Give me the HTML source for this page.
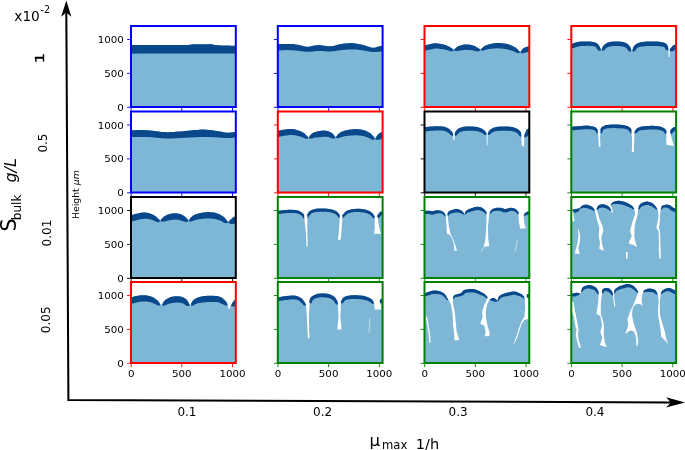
<!DOCTYPE html>
<html lang="en"><head><meta charset="utf-8"><title>Biofilm morphology vs. growth rate and bulk substrate</title>
<style>html,body{margin:0;padding:0;background:#fff}svg{display:block}</style></head>
<body>
<svg width="685" height="450" viewBox="0 0 685 450" font-family="'DejaVu Sans','Liberation Sans',sans-serif" fill="#000">
<rect width="685" height="450" fill="#fff"/>
<clipPath id="c00"><rect x="131" y="26" width="104.8" height="81"/></clipPath>
<g clip-path="url(#c00)">
<polygon fill="#7eb6d6" points="130,45 132.8,45 136.9,45 141.5,45 145.8,45 149.7,45 153.7,45 157.6,45 161.5,45 165.6,45 169.6,45 173.6,45 177.3,45 180.9,45 184.5,45 187.6,44.9 189.9,44.8 191.1,44.7 191.3,44.5 191.4,44.3 192.3,44.2 194.3,44.2 197,44.2 199.9,44.2 202.6,44.2 205.1,44.2 207.8,44.2 210.2,44.1 212,44.2 212.9,44.4 213.2,44.6 213.4,44.8 214.4,45 216.3,45.1 218.9,45.3 221.8,45.4 224.6,45.5 227.8,45.6 231.4,45.7 234.6,45.7 236.8,45.8 236.8,108 130,108"/>
<polygon fill="#0a488c" points="130,45 132.8,45 136.9,45 141.5,45 145.8,45 149.7,45 153.7,45 157.6,45 161.5,45 165.6,45 169.6,45 173.6,45 177.3,45 180.9,45 184.5,45 187.6,44.9 189.9,44.8 191.1,44.7 191.3,44.5 191.4,44.3 192.3,44.2 194.3,44.2 197,44.2 199.9,44.2 202.6,44.2 205.1,44.2 207.8,44.2 210.2,44.1 212,44.2 212.9,44.4 213.2,44.6 213.4,44.8 214.4,45 216.3,45.1 218.9,45.3 221.8,45.4 224.6,45.5 227.8,45.6 231.4,45.7 234.6,45.7 236.8,45.8 236.8,53.4 227.1,53.4 213.1,53.4 197.5,53.5 182.8,53.5 168.3,53.6 153,53.6 139.5,53.6 130,53.7"/>
</g>
<clipPath id="c01"><rect x="277.8" y="26" width="104.8" height="81"/></clipPath>
<g clip-path="url(#c01)">
<polygon fill="#7eb6d6" points="276.8,44.2 279.5,44.1 283.5,44 287.7,43.9 291.2,43.9 293.6,44.1 295.5,44.4 297.3,44.8 299.1,45.1 301.1,45.6 303.1,46.1 305.1,46.5 307,46.7 308.7,46.7 310.2,46.4 311.7,46.1 313.3,45.8 314.7,45.6 316.1,45.3 317.7,45.2 319.6,45.1 322.1,45.4 324.9,45.8 327.9,46.2 330.6,46.3 333.1,45.9 335.4,45.4 337.7,44.7 340.1,44.2 342.7,43.8 345.5,43.4 348.3,43.2 351.1,43.1 354,43.3 356.9,43.7 359.7,44.2 362.2,44.7 364.1,45.2 365.7,45.7 367.1,46.3 368.5,46.7 369.8,47.1 370.9,47.5 372.1,47.7 373.2,47.8 374.4,47.7 375.5,47.4 376.7,47.1 377.9,46.7 379.4,46.3 381.1,45.9 382.6,45.4 383.6,45.1 383.6,108 276.8,108"/>
<polygon fill="#0a488c" points="276.8,44.2 279.5,44.1 283.5,44 287.7,43.9 291.2,43.9 293.6,44.1 295.5,44.4 297.3,44.8 299.1,45.1 301.1,45.6 303.1,46.1 305.1,46.5 307,46.7 308.7,46.7 310.2,46.4 311.7,46.1 313.3,45.8 314.7,45.6 316.1,45.3 317.7,45.2 319.6,45.1 322.1,45.4 324.9,45.8 327.9,46.2 330.6,46.3 333.1,45.9 335.4,45.4 337.7,44.7 340.1,44.2 342.7,43.8 345.5,43.4 348.3,43.2 351.1,43.1 354,43.3 356.9,43.7 359.7,44.2 362.2,44.7 364.1,45.2 365.7,45.7 367.1,46.3 368.5,46.7 369.8,47.1 370.9,47.5 372.1,47.7 373.2,47.8 374.4,47.7 375.5,47.4 376.7,47.1 377.9,46.7 379.4,46.3 381.1,45.9 382.6,45.4 383.6,45.1 383.6,51 381.7,51.3 379.1,51.7 376.1,52 373.2,52.1 370.5,51.8 367.7,51.3 364.9,50.7 362.2,50.2 359.4,49.9 356.7,49.6 353.9,49.5 351.1,49.4 348.3,49.5 345.5,49.7 342.7,49.9 340.1,50.2 337.7,50.5 335.4,50.9 333.1,51.3 330.6,51.5 328,51.4 325.3,51.3 322.5,51.1 319.6,51 316.6,51.1 313.6,51.4 310.4,51.7 307,51.8 303.2,51.5 299.2,51 295.1,50.5 291.2,50.2 287.2,50.1 283,50.3 279.4,50.4 276.8,50.5"/>
</g>
<clipPath id="c02"><rect x="424.5" y="26" width="104.8" height="81"/></clipPath>
<g clip-path="url(#c02)">
<polygon fill="#7eb6d6" points="423.5,45.8 424.5,45.5 425.9,45.1 427.6,44.7 429.2,44.2 430.7,43.9 431.9,43.7 433,43.5 434.1,43.3 435.2,43.3 436.5,43.3 437.9,43.4 439.5,43.7 441.2,43.9 442.8,44.3 444.2,44.7 445.5,45.1 446.8,45.6 447.9,46.1 449,46.6 450,47.2 451,47.8 451.9,48.5 452.7,49.1 453.4,49.7 453.9,50.1 453.9,50.1 454.2,49.7 454.7,49.1 455.3,48.4 456,47.8 456.8,47.2 457.8,46.6 458.9,46.1 460.2,45.6 461.4,45.2 462.6,44.9 463.6,44.6 464.5,44.5 465.4,44.4 466.3,44.4 467.4,44.5 468.7,44.6 470,44.8 471.4,45 472.8,45.4 474.2,45.8 475.6,46.5 477.1,47.4 478.5,48.3 479.7,49.1 480.6,49.7 480.6,49.7 481,49.3 481.6,48.6 482.3,47.9 483,47.2 483.9,46.6 484.7,46.1 485.6,45.6 486.6,45.1 487.8,44.7 489.1,44.3 490.7,43.9 492.5,43.5 494.4,43.2 496.4,43 498.4,42.9 500.3,43 502.3,43.2 504.3,43.5 506.2,43.8 508,44.3 509.8,44.8 511.4,45.5 513,46.2 514.5,47 515.8,47.8 517,48.7 518,49.8 518.9,50.8 519.7,51.8 520.2,52.4 520.2,52.4 520.6,51.8 521.1,50.9 521.8,49.9 522.6,48.9 523.5,48.1 524.8,47.5 526.3,47 527.9,46.5 529.3,46.1 530.3,45.8 530.3,108 423.5,108"/>
<polygon fill="#0a488c" points="423.5,45.8 424.5,45.5 425.9,45.1 427.6,44.7 429.2,44.2 430.7,43.9 431.9,43.7 433,43.5 434.1,43.3 435.2,43.3 436.5,43.3 437.9,43.4 439.5,43.7 441.2,43.9 442.8,44.3 444.2,44.7 445.5,45.1 446.8,45.6 447.9,46.1 449,46.6 450,47.2 451,47.8 451.9,48.5 452.7,49.1 453.4,49.7 453.9,50.1 453.2,50.9 451.9,51.4 451,51.3 450,51 449,50.7 448.1,50.4 447.2,50.2 446.1,49.9 445.1,49.6 444,49.4 442.9,49.2 441.6,49 440.2,48.9 438.7,48.7 437.3,48.6 436.2,48.6 435.3,48.6 434.5,48.7 433.8,48.8 432.9,49 431.8,49.2 430.5,49.5 429,49.8 427.4,50.2 426,50.6 424.9,50.8"/>
<polygon fill="#0a488c" points="453.9,50.1 454.2,49.7 454.7,49.1 455.3,48.4 456,47.8 456.8,47.2 457.8,46.6 458.9,46.1 460.2,45.6 461.4,45.2 462.6,44.9 463.6,44.6 464.5,44.5 465.4,44.4 466.3,44.4 467.4,44.5 468.7,44.6 470,44.8 471.4,45 472.8,45.4 474.2,45.8 475.6,46.5 477.1,47.4 478.5,48.3 479.7,49.1 480.6,49.7 480,50.6 478.1,51.5 476.5,51.3 474.9,50.9 473.4,50.5 472.4,50.3 471.4,50.2 470.3,50.1 469.2,50 468.1,49.9 467,49.9 466.2,49.8 465.6,49.8 465.1,49.8 464.6,49.8 463.9,49.9 463,50 461.9,50.2 460.8,50.4 459.7,50.6 459,50.7 458.4,50.7 457.8,50.8 457,51 456.1,51.2 454.7,50.8"/>
<polygon fill="#0a488c" points="480.6,49.7 481,49.3 481.6,48.6 482.3,47.9 483,47.2 483.9,46.6 484.7,46.1 485.6,45.6 486.6,45.1 487.8,44.7 489.1,44.3 490.7,43.9 492.5,43.5 494.4,43.2 496.4,43 498.4,42.9 500.3,43 502.3,43.2 504.3,43.5 506.2,43.8 508,44.3 509.8,44.8 511.4,45.5 513,46.2 514.5,47 515.8,47.8 517,48.7 518,49.8 518.9,50.8 519.7,51.8 520.2,52.4 519.4,53.1 517.8,53.3 516.6,52.8 515.4,52.2 514.4,51.6 513.4,51.2 512.3,50.8 511,50.4 509.6,50 508.1,49.6 506.7,49.3 505.1,49 503.4,48.7 501.7,48.5 500,48.4 498.4,48.3 496.8,48.3 495.1,48.4 493.4,48.5 491.7,48.7 490.3,48.9 489.2,49 488.3,49.1 487.5,49.3 486.8,49.5 486,49.7 485.3,49.9 484.5,50.2 483.6,50.6 482.7,50.8 481.4,50.4"/>
<polygon fill="#0a488c" points="520.2,52.4 520.6,51.8 521.1,50.9 521.8,49.9 522.6,48.9 523.5,48.1 524.8,47.5 526.3,47 527.9,46.5 529.3,46.1 530.3,45.8 531.8,50.8 530.8,51.2 529.4,51.7 528,52.1 526.8,52.3 526.2,52.3 525.9,52.2 525.2,52.4 524.3,52.9 523.1,53.3 521.1,53"/>
</g>
<clipPath id="c03"><rect x="571.3" y="26" width="104.8" height="81"/></clipPath>
<g clip-path="url(#c03)">
<polygon fill="#7eb6d6" points="570.3,44.3 571.3,43.9 572.7,43.4 574.3,42.9 576.1,42.3 577.7,42 579.2,41.7 580.7,41.5 582.3,41.4 583.9,41.4 585.4,41.4 587,41.4 588.6,41.4 590.3,41.5 591.8,41.7 593.1,42 594.3,42.3 595.4,42.6 596.3,43 597.2,43.6 598,44.3 598.8,45.3 599.6,46.6 600.3,48 600.8,49.2 601.3,50.1 601.3,50.1 601.6,49.4 602,48.4 602.5,47.3 603.1,46.2 603.8,45.2 604.6,44.5 605.4,43.9 606.4,43.3 607.4,42.8 608.6,42.3 610,42 611.5,41.7 613.1,41.5 614.8,41.4 616.4,41.4 618,41.4 619.6,41.5 621.2,41.7 622.7,42 624.1,42.3 625.3,42.8 626.3,43.2 627.3,43.8 628.1,44.4 628.9,45.2 629.7,46.3 630.4,47.6 631,49 631.5,50.2 631.8,51 631.8,51 632.2,50.2 632.6,49 633.2,47.6 633.9,46.3 634.7,45.2 635.6,44.4 636.6,43.8 637.7,43.2 639,42.8 640.5,42.3 642.4,42 644.5,41.7 646.8,41.6 649,41.4 651.2,41.4 653.2,41.4 655.3,41.4 657.3,41.5 659.2,41.7 660.8,42 662.3,42.3 663.6,42.6 664.8,43 665.8,43.6 666.7,44.3 667.4,45.3 667.9,46.6 668.4,48 668.7,49.2 669,50.1 669,50.1 669.3,49.7 669.8,49.1 670.4,48.4 671,47.7 671.5,47.2 671.9,46.7 672.2,46.3 672.6,45.9 672.9,45.6 673.4,45.2 674.1,45 674.9,44.7 675.8,44.5 676.6,44.4 677.1,44.3 677.1,108 570.3,108"/>
<polygon fill="#0a488c" points="570.3,44.3 571.3,43.9 572.7,43.4 574.3,42.9 576.1,42.3 577.7,42 579.2,41.7 580.7,41.5 582.3,41.4 583.9,41.4 585.4,41.4 587,41.4 588.6,41.4 590.3,41.5 591.8,41.7 593.1,42 594.3,42.3 595.4,42.6 596.3,43 597.2,43.6 598,44.3 598.8,45.3 599.6,46.6 600.3,48 600.8,49.2 601.3,50.1 599.8,50.8 598.4,50.4 597.5,49.4 596.6,48.2 595.8,47.3 595.3,46.8 594.9,46.6 594.4,46.5 593.9,46.3 593.2,46.2 592.3,46 591.2,45.9 589.9,45.9 588.4,45.8 586.9,45.8 585.4,45.9 584,45.9 582.5,46 581.1,46.1 579.8,46.3 578.6,46.5 577.3,46.8 575.8,47.2 574.2,47.7 572.8,48.2 571.8,48.5"/>
<polygon fill="#0a488c" points="601.3,50.1 601.6,49.4 602,48.4 602.5,47.3 603.1,46.2 603.8,45.2 604.6,44.5 605.4,43.9 606.4,43.3 607.4,42.8 608.6,42.3 610,42 611.5,41.7 613.1,41.5 614.8,41.4 616.4,41.4 618,41.4 619.6,41.5 621.2,41.7 622.7,42 624.1,42.3 625.3,42.8 626.3,43.2 627.3,43.8 628.1,44.4 628.9,45.2 629.7,46.3 630.4,47.6 631,49 631.5,50.2 631.8,51 630.4,51.7 628.9,51.3 628,50.3 627.2,49.2 626.4,48.3 625.9,47.8 625.4,47.5 624.9,47.2 624.4,47 623.7,46.8 622.8,46.6 621.8,46.4 620.5,46.2 619.2,46.1 617.7,46 616.4,46 615,46 613.6,46.1 612.2,46.2 610.9,46.3 609.9,46.5 609.1,46.7 608.3,47 607.7,47.2 607.1,47.5 606.7,47.8 606.2,48.1 605.6,48.8 604.9,49.6 604.1,50.5 602.7,50.7"/>
<polygon fill="#0a488c" points="631.8,51 632.2,50.2 632.6,49 633.2,47.6 633.9,46.3 634.7,45.2 635.6,44.4 636.6,43.8 637.7,43.2 639,42.8 640.5,42.3 642.4,42 644.5,41.7 646.8,41.6 649,41.4 651.2,41.4 653.2,41.4 655.3,41.4 657.3,41.5 659.2,41.7 660.8,42 662.3,42.3 663.6,42.6 664.8,43 665.8,43.6 666.7,44.3 667.4,45.3 667.9,46.6 668.4,48 668.7,49.2 669,50.1 667.4,50.6 666.1,50 665.4,48.9 664.7,47.8 664.2,47.1 663.8,46.9 663.6,46.8 663.1,46.7 662.4,46.5 661.4,46.4 660.1,46.2 658.6,46.1 657,46 655.1,46 653.2,45.9 651.3,46 649.2,46 647.1,46.1 644.9,46.2 643,46.4 641.5,46.6 640.3,46.8 639.4,47.1 638.7,47.3 638.1,47.6 637.6,47.8 637,48.3 636.3,49.1 635.6,50.2 634.7,51.2 633.3,51.7"/>
<polygon fill="#0a488c" points="669,50.1 669.3,49.7 669.8,49.1 670.4,48.4 671,47.7 671.5,47.2 671.9,46.7 672.2,46.3 672.6,45.9 672.9,45.6 673.4,45.2 674.1,45 674.9,44.7 675.8,44.5 676.6,44.4 677.1,44.3 678.1,48.7 677.5,48.8 676.8,49 676.1,49.2 675.5,49.3 675.4,49.3 675.7,49.2 675.8,49 675.6,49.1 675.2,49.5 674.7,50 674,50.4 673.3,50.9 672.5,51.3 671.6,51.6 670.2,51.1"/>
<polygon fill="#fff" points="600.9,46.6 601.9,46.6 601.5,50.9"/>
<polygon fill="#fff" points="631.3,47.8 632.4,47.8 632,53.6"/>
<polygon fill="#fff" points="668.4,47.2 669.7,47.2 669.6,56.9 668.6,56.9"/>
</g>
<clipPath id="c10"><rect x="131" y="111.5" width="104.8" height="81"/></clipPath>
<g clip-path="url(#c10)">
<polygon fill="#7eb6d6" points="130,130.2 133.3,130.2 138.1,130.1 143.2,130.1 147.4,130.2 150.3,130.4 152.6,130.7 154.6,131 156.8,131.3 159.2,131.6 161.5,131.9 163.9,132.1 166.3,132.3 168.6,132.2 171,132.1 173.4,132 175.7,131.8 178.1,131.6 180.5,131.4 182.8,131.2 185.2,131 187.6,130.8 189.9,130.5 192.3,130.3 194.7,130 197,129.9 199.3,129.7 201.7,129.6 204.1,129.6 206.7,129.7 209.5,130 212.3,130.3 215.2,130.7 218.3,131.2 221.6,131.8 224.9,132.4 227.8,132.7 230.5,132.6 233.1,132.2 235.3,131.8 236.8,131.5 236.8,193.5 130,193.5"/>
<polygon fill="#0a488c" points="130,130.2 133.3,130.2 138.1,130.1 143.2,130.1 147.4,130.2 150.3,130.4 152.6,130.7 154.6,131 156.8,131.3 159.2,131.6 161.5,131.9 163.9,132.1 166.3,132.3 168.6,132.2 171,132.1 173.4,132 175.7,131.8 178.1,131.6 180.5,131.4 182.8,131.2 185.2,131 187.6,130.8 189.9,130.5 192.3,130.3 194.7,130 197,129.9 199.3,129.7 201.7,129.6 204.1,129.6 206.7,129.7 209.5,130 212.3,130.3 215.2,130.7 218.3,131.2 221.6,131.8 224.9,132.4 227.8,132.7 230.5,132.6 233.1,132.2 235.3,131.8 236.8,131.5 236.8,137.5 235.3,137.6 233.1,137.8 230.5,138 227.8,138.1 224.9,138 221.6,137.8 218.3,137.5 215.2,137.3 212.5,137.2 210,137 207.4,137 204.1,137 200,137.1 195.2,137.3 190.1,137.5 185.2,137.8 180.5,138 175.7,138.3 171,138.5 166.3,138.6 161.5,138.3 156.7,137.8 152,137.3 147.4,137 142.5,136.9 137.5,136.9 133.1,136.9 130,137"/>
</g>
<clipPath id="c11"><rect x="277.8" y="111.5" width="104.8" height="81"/></clipPath>
<g clip-path="url(#c11)">
<polygon fill="#7eb6d6" points="276.8,131 277.9,130.8 279.5,130.4 281.3,130 283.2,129.7 284.9,129.4 286.5,129.2 288.1,129.1 289.7,129 291.3,129 292.8,129.1 294.2,129.3 295.5,129.6 296.7,129.9 297.9,130.3 299.1,130.7 300.2,131.1 301.2,131.5 302.1,132 303,132.5 303.8,133 304.6,133.6 305.3,134.2 305.9,134.8 306.5,135.4 307,135.9 307.4,136.3 307.8,136.8 308.1,137.2 308.4,137.5 308.5,137.8 308.5,137.8 308.7,137.5 309,137 309.3,136.5 309.7,135.9 310.1,135.4 310.6,134.9 311.1,134.3 311.7,133.7 312.4,133.2 313.3,132.7 314.3,132.3 315.6,131.9 316.9,131.5 318.3,131.2 319.6,131 320.9,130.8 322.2,130.7 323.5,130.6 324.7,130.6 325.9,130.7 327,130.9 328,131.1 328.9,131.5 329.8,131.9 330.6,132.3 331.3,132.7 331.9,133.1 332.5,133.6 333,134.1 333.5,134.6 334,135.2 334.5,135.9 335,136.5 335.4,137.1 335.7,137.5 335.7,137.5 335.9,137.1 336.3,136.5 336.7,135.9 337.2,135.2 337.7,134.6 338.4,134 339.1,133.4 339.8,132.8 340.7,132.3 341.7,131.8 342.8,131.3 343.9,130.9 345.2,130.5 346.6,130.2 348,129.9 349.5,129.6 351,129.4 352.6,129.2 354.3,129.1 355.9,129.1 357.5,129.2 359.1,129.3 360.7,129.5 362.3,129.8 363.8,130.2 365.2,130.6 366.5,131.2 367.8,131.8 369,132.4 370.1,133 371,133.7 371.7,134.4 372.4,135.2 373,135.9 373.5,136.5 374,137.1 374.4,137.7 374.7,138.3 374.9,138.7 375.1,139 375.1,139 375.3,138.6 375.6,138.1 375.9,137.5 376.3,136.8 376.7,136.2 377.1,135.6 377.5,135 378,134.4 378.6,133.9 379.2,133.4 380,132.9 381,132.4 382.1,132 383,131.7 383.6,131.5 383.6,193.5 276.8,193.5"/>
<polygon fill="#0a488c" points="276.8,131 277.9,130.8 279.5,130.4 281.3,130 283.2,129.7 284.9,129.4 286.5,129.2 288.1,129.1 289.7,129 291.3,129 292.8,129.1 294.2,129.3 295.5,129.6 296.7,129.9 297.9,130.3 299.1,130.7 300.2,131.1 301.2,131.5 302.1,132 303,132.5 303.8,133 304.6,133.6 305.3,134.2 305.9,134.8 306.5,135.4 307,135.9 307.4,136.3 307.8,136.8 308.1,137.2 308.4,137.5 308.5,137.8 307.6,138.5 306.6,138.9 306,138.8 305.5,138.7 305,138.5 304.4,138.3 303.8,138 303.1,137.7 302.4,137.3 301.8,137.1 301.2,136.9 300.5,136.6 299.8,136.4 299,136.2 298.1,136 297.2,135.8 296.2,135.5 295.1,135.3 294.1,135.2 293.2,135.1 292.2,135 291.2,135.1 289.9,135.1 288.5,135.3 287.1,135.4 285.7,135.6 284.2,135.8 282.5,136.1 280.7,136.4 279.2,136.7 278,136.8"/>
<polygon fill="#0a488c" points="308.5,137.8 308.7,137.5 309,137 309.3,136.5 309.7,135.9 310.1,135.4 310.6,134.9 311.1,134.3 311.7,133.7 312.4,133.2 313.3,132.7 314.3,132.3 315.6,131.9 316.9,131.5 318.3,131.2 319.6,131 320.9,130.8 322.2,130.7 323.5,130.6 324.7,130.6 325.9,130.7 327,130.9 328,131.1 328.9,131.5 329.8,131.9 330.6,132.3 331.3,132.7 331.9,133.1 332.5,133.6 333,134.1 333.5,134.6 334,135.2 334.5,135.9 335,136.5 335.4,137.1 335.7,137.5 334.7,138.2 333.2,138.7 332.3,138.5 331.5,138.2 330.8,137.9 330.2,137.7 329.6,137.4 329.1,137.2 328.7,137.1 328.4,137 328,137 327.5,136.9 326.8,136.8 326.2,136.7 325.7,136.7 325.2,136.7 324.5,136.7 323.7,136.8 322.7,136.9 321.6,136.9 320.6,137 319.5,137.2 318.3,137.3 317.2,137.4 316.2,137.5 315.6,137.6 315.2,137.5 314.9,137.5 314.5,137.6 313.9,137.9 313.3,138.2 312.8,138.3 312.3,138.4 311.7,138.6 310.9,138.7 309.6,138.4"/>
<polygon fill="#0a488c" points="335.7,137.5 335.9,137.1 336.3,136.5 336.7,135.9 337.2,135.2 337.7,134.6 338.4,134 339.1,133.4 339.8,132.8 340.7,132.3 341.7,131.8 342.8,131.3 343.9,130.9 345.2,130.5 346.6,130.2 348,129.9 349.5,129.6 351,129.4 352.6,129.2 354.3,129.1 355.9,129.1 357.5,129.2 359.1,129.3 360.7,129.5 362.3,129.8 363.8,130.2 365.2,130.6 366.5,131.2 367.8,131.8 369,132.4 370.1,133 371,133.7 371.7,134.4 372.4,135.2 373,135.9 373.5,136.5 374,137.1 374.4,137.7 374.7,138.3 374.9,138.7 375.1,139 374,139.6 372.8,139.9 372.2,139.6 371.6,139.4 371.1,139.2 370.5,138.9 369.8,138.5 369.1,138 368.5,137.7 367.9,137.4 367.3,137.2 366.4,137 365.4,136.7 364.3,136.3 363.2,136.1 362.2,135.9 361,135.7 359.7,135.6 358.4,135.4 357,135.3 355.8,135.3 354.5,135.3 353.2,135.4 351.8,135.4 350.4,135.6 349.1,135.7 347.9,135.8 346.7,136 345.6,136.1 344.7,136.3 343.8,136.4 343.2,136.6 342.5,136.7 341.9,137 341.2,137.2 340.6,137.5 340.1,137.6 339.5,137.8 338.8,138.1 338,138.4 336.7,138.1"/>
<polygon fill="#0a488c" points="375.1,139 375.3,138.6 375.6,138.1 375.9,137.5 376.3,136.8 376.7,136.2 377.1,135.6 377.5,135 378,134.4 378.6,133.9 379.2,133.4 380,132.9 381,132.4 382.1,132 383,131.7 383.6,131.5 385.8,137 385.1,137.4 384.3,137.8 383.4,138.2 382.8,138.4 382.6,138.4 382.5,138.3 382.3,138.3 382,138.4 381.5,138.8 380.9,139.1 380.3,139.3 379.7,139.5 378.9,139.8 378,140 376.2,139.6"/>
</g>
<clipPath id="c12"><rect x="424.5" y="111.5" width="104.8" height="81"/></clipPath>
<g clip-path="url(#c12)">
<polygon fill="#7eb6d6" points="423.5,127.4 424.7,127.2 426.5,127 428.5,126.8 430.6,126.6 432.6,126.4 434.6,126.3 436.6,126.2 438.7,126.2 440.6,126.3 442.3,126.4 443.7,126.6 445,127 446.1,127.4 447.1,127.8 448.1,128.3 449,128.9 449.9,129.6 450.6,130.4 451.3,131.1 451.9,131.8 452.5,132.5 453,133.3 453.3,134 453.7,134.7 453.9,135.1 453.9,135.1 454.1,134.6 454.4,133.8 454.8,132.9 455.3,132 455.8,131.2 456.4,130.5 457,129.8 457.8,129.1 458.6,128.5 459.7,128 461,127.5 462.4,127.1 464,126.8 465.7,126.6 467.4,126.4 469.3,126.4 471.3,126.4 473.3,126.5 475.3,126.7 477.1,127 478.7,127.4 480.2,127.9 481.5,128.5 482.8,129.2 483.9,129.9 484.8,130.7 485.6,131.7 486.2,132.7 486.8,133.5 487.2,134.1 487.2,134.1 487.5,133.6 487.9,132.8 488.4,131.9 489,131.1 489.7,130.3 490.4,129.6 491.2,129 492.1,128.4 493.2,127.8 494.5,127.4 496.1,127 498,126.8 500.1,126.6 502.2,126.4 504.2,126.4 506.2,126.4 508.2,126.5 510.3,126.7 512.2,127 513.8,127.4 515.3,127.9 516.6,128.4 517.7,129.1 518.7,129.8 519.7,130.7 520.5,131.7 521.2,132.9 521.7,134.2 522.2,135.3 522.6,136.1 522.6,136.1 522.9,135.7 523.4,135.2 524,134.5 524.6,133.9 525.1,133.2 525.5,132.4 525.8,131.6 526.2,130.7 526.5,129.9 527,129.3 527.6,128.9 528.4,128.7 529.2,128.5 529.8,128.4 530.3,128.3 530.3,193.5 423.5,193.5"/>
<polygon fill="#0a488c" points="423.5,127.4 424.7,127.2 426.5,127 428.5,126.8 430.6,126.6 432.6,126.4 434.6,126.3 436.6,126.2 438.7,126.2 440.6,126.3 442.3,126.4 443.7,126.6 445,127 446.1,127.4 447.1,127.8 448.1,128.3 449,128.9 449.9,129.6 450.6,130.4 451.3,131.1 451.9,131.8 452.5,132.5 453,133.3 453.3,134 453.7,134.7 453.9,135.1 452.6,135.8 451.6,135.7 451,135.2 450.5,134.7 450,134.2 449.5,133.8 448.9,133.3 448.2,132.8 447.5,132.3 446.9,131.9 446.2,131.6 445.4,131.2 444.6,131 443.8,130.7 442.9,130.6 441.8,130.5 440.4,130.4 438.6,130.4 436.7,130.5 434.7,130.6 432.9,130.7 431,130.8 429,131 427,131.2 425.2,131.4 424,131.5"/>
<polygon fill="#0a488c" points="453.9,135.1 454.1,134.6 454.4,133.8 454.8,132.9 455.3,132 455.8,131.2 456.4,130.5 457,129.8 457.8,129.1 458.6,128.5 459.7,128 461,127.5 462.4,127.1 464,126.8 465.7,126.6 467.4,126.4 469.3,126.4 471.3,126.4 473.3,126.5 475.3,126.7 477.1,127 478.7,127.4 480.2,127.9 481.5,128.5 482.8,129.2 483.9,129.9 484.8,130.7 485.6,131.7 486.2,132.7 486.8,133.5 487.2,134.1 485.9,135 484.6,134.9 483.8,134.2 483,133.6 482.4,133.1 481.7,132.7 480.9,132.4 479.9,132 478.7,131.6 477.5,131.3 476.2,131 474.8,130.9 473,130.7 471.1,130.7 469.3,130.7 467.7,130.7 466.2,130.8 464.7,130.9 463.3,131.1 462.2,131.4 461.2,131.6 460.6,131.8 460.2,132 459.7,132.3 459.1,132.8 458.6,133.3 458.1,133.7 457.6,134.3 457,134.9 456.4,135.5 455.3,135.7"/>
<polygon fill="#0a488c" points="487.2,134.1 487.5,133.6 487.9,132.8 488.4,131.9 489,131.1 489.7,130.3 490.4,129.6 491.2,129 492.1,128.4 493.2,127.8 494.5,127.4 496.1,127 498,126.8 500.1,126.6 502.2,126.4 504.2,126.4 506.2,126.4 508.2,126.5 510.3,126.7 512.2,127 513.8,127.4 515.3,127.9 516.6,128.4 517.7,129.1 518.7,129.8 519.7,130.7 520.5,131.7 521.2,132.9 521.7,134.2 522.2,135.3 522.6,136.1 521.2,136.7 519.9,136.3 519,135.4 518.3,134.4 517.6,133.6 517,133.1 516.4,132.7 515.6,132.3 514.8,131.9 513.9,131.6 512.8,131.3 511.4,131.1 509.8,130.9 507.9,130.8 506,130.7 504.2,130.7 502.3,130.7 500.4,130.8 498.5,130.9 496.8,131 495.5,131.2 494.6,131.4 494,131.6 493.4,131.9 492.7,132.3 492.1,132.7 491.5,133 491,133.6 490.3,134.2 489.6,134.8 488.5,134.9"/>
<polygon fill="#0a488c" points="522.6,136.1 522.9,135.7 523.4,135.2 524,134.5 524.6,133.9 525.1,133.2 525.5,132.4 525.8,131.6 526.2,130.7 526.5,129.9 527,129.3 527.6,128.9 528.4,128.7 529.2,128.5 529.8,128.4 530.3,128.3 531,132.5 530.5,132.6 529.9,132.7 529.5,132.8 529.4,132.8 529.9,132.5 530.2,132.1 530,132.4 529.7,133.1 529.1,134.1 528.3,135.2 527.5,136.2 526.6,136.8 525.7,137.3 524.9,137.6 523.7,137.1"/>
<polygon fill="#fff" points="453.1,131.8 454.7,131.8 454.5,139.9 453.3,139.9"/>
<polygon fill="#fff" points="486.6,130.7 487.7,130.7 487.5,145.4 486.8,145.4"/>
<polygon fill="#fff" points="521.2,132.6 524.3,132.6 524.1,146.7 521.8,145.8"/>
</g>
<clipPath id="c13"><rect x="571.3" y="111.5" width="104.8" height="81"/></clipPath>
<g clip-path="url(#c13)">
<polygon fill="#7eb6d6" points="570.3,126.8 571.6,126.7 573.4,126.5 575.5,126.3 577.7,126.2 579.6,126 581.3,125.9 582.9,125.8 584.4,125.7 585.9,125.6 587.3,125.6 588.8,125.7 590.3,125.9 591.7,126.2 593,126.5 594.1,126.8 595,127.2 595.8,127.6 596.4,128.1 596.9,128.7 597.4,129.3 597.8,130.1 598.1,130.9 598.3,131.8 598.4,132.6 598.6,133.2 599.9,133.2 600,132.5 600.1,131.5 600.2,130.4 600.5,129.3 600.9,128.3 601.4,127.6 602,127 602.8,126.4 603.7,125.9 604.8,125.4 606,125.1 607.5,124.9 609.1,124.7 610.8,124.6 612.5,124.5 614.3,124.4 616.4,124.5 618.4,124.5 620.4,124.7 622.2,124.9 623.8,125.1 625.3,125.4 626.6,125.8 627.9,126.3 628.9,126.8 629.8,127.4 630.5,128.1 631,128.9 631.4,129.6 631.8,130.3 632.2,130.9 632.4,131.6 632.6,132.3 632.7,132.8 632.8,133.2 633.8,133.2 633.9,132.9 633.9,132.6 634.1,132.3 634.3,131.8 634.7,131.2 635.2,130.6 635.8,129.7 636.6,128.8 637.5,128 638.6,127.4 640,126.9 641.7,126.6 643.5,126.3 645.4,126.2 647.3,126 649.2,125.9 651.2,125.8 653.3,125.8 655.2,125.9 657,126 658.6,126.3 660.1,126.6 661.5,127 662.7,127.5 663.8,128 664.6,128.5 665.3,129.2 665.8,129.9 666.3,130.6 666.7,131.2 666.9,131.9 667.1,132.6 667.2,133.2 667.2,133.8 667.2,134.1 669.4,134.1 669.5,133.6 669.7,132.8 669.9,131.9 670.2,131.1 670.5,130.3 671,129.6 671.5,128.9 672.1,128.3 672.8,127.8 673.4,127.4 674.2,127.1 675,126.9 675.9,126.9 676.6,126.8 677.1,126.8 677.1,193.5 570.3,193.5"/>
<polygon fill="#0a488c" points="570.3,126.8 571.6,126.7 573.4,126.5 575.5,126.3 577.7,126.2 579.6,126 581.3,125.9 582.9,125.8 584.4,125.7 585.9,125.6 587.3,125.6 588.8,125.7 590.3,125.9 591.7,126.2 593,126.5 594.1,126.8 595,127.2 595.8,127.6 596.4,128.1 596.9,128.7 597.4,129.3 597.8,130.1 598.1,130.9 598.3,131.8 598.4,132.6 598.6,133.2 597.3,133.5 596.4,133 596,132.3 595.7,131.6 595.3,131.1 595,130.8 594.7,130.6 594.4,130.3 594.1,130.1 593.6,130 593,129.8 592.2,129.6 591.1,129.4 589.8,129.3 588.5,129.2 587.2,129.2 585.9,129.2 584.6,129.3 583.1,129.4 581.6,129.6 579.9,129.7 578,129.9 575.9,130 573.7,130.2 571.9,130.3 570.6,130.4"/>
<polygon fill="#0a488c" points="599.9,133.2 600,132.5 600.1,131.5 600.2,130.4 600.5,129.3 600.9,128.3 601.4,127.6 602,127 602.8,126.4 603.7,125.9 604.8,125.4 606,125.1 607.5,124.9 609.1,124.7 610.8,124.6 612.5,124.5 614.3,124.4 616.4,124.5 618.4,124.5 620.4,124.7 622.2,124.9 623.8,125.1 625.3,125.4 626.6,125.8 627.9,126.3 628.9,126.8 629.8,127.4 630.5,128.1 631,128.9 631.4,129.6 631.8,130.3 632.2,130.9 632.4,131.6 632.6,132.3 632.7,132.8 632.8,133.2 631.5,133.5 630.8,133.3 630.4,132.8 630.1,132.3 629.8,132 629.4,131.6 629,131 628.5,130.5 628.1,130.1 627.7,129.8 627.3,129.6 626.6,129.3 625.6,129.1 624.4,128.8 623.1,128.6 621.7,128.4 620.1,128.3 618.2,128.2 616.3,128.2 614.4,128.1 612.6,128.1 611,128.2 609.4,128.2 608,128.3 606.8,128.5 605.8,128.7 605.1,128.9 604.6,129.1 604.1,129.3 603.8,129.6 603.5,129.8 603.2,130.1 602.9,130.8 602.5,131.9 602.1,132.8 601.2,133.4"/>
<polygon fill="#0a488c" points="633.8,133.2 633.9,132.9 633.9,132.6 634.1,132.3 634.3,131.8 634.7,131.2 635.2,130.6 635.8,129.7 636.6,128.8 637.5,128 638.6,127.4 640,126.9 641.7,126.6 643.5,126.3 645.4,126.2 647.3,126 649.2,125.9 651.2,125.8 653.3,125.8 655.2,125.9 657,126 658.6,126.3 660.1,126.6 661.5,127 662.7,127.5 663.8,128 664.6,128.5 665.3,129.2 665.8,129.9 666.3,130.6 666.7,131.2 666.9,131.9 667.1,132.6 667.2,133.2 667.2,133.8 667.2,134.1 666,134.3 665.2,134.1 664.9,133.5 664.7,133 664.5,132.7 664.2,132.5 663.8,132 663.4,131.6 663,131.2 662.7,131 662.2,130.8 661.4,130.5 660.4,130.2 659.2,130 657.9,129.8 656.6,129.6 655,129.5 653.2,129.5 651.3,129.5 649.4,129.6 647.6,129.7 645.7,129.8 643.9,129.9 642.3,130 640.9,130.2 639.9,130.4 639.3,130.6 638.7,130.9 638.1,131.5 637.5,132.2 636.8,132.8 636.4,133.1 636.2,133.2 635.9,133.3 635.7,133.5 635,133.6"/>
<polygon fill="#0a488c" points="669.4,134.1 669.5,133.6 669.7,132.8 669.9,131.9 670.2,131.1 670.5,130.3 671,129.6 671.5,128.9 672.1,128.3 672.8,127.8 673.4,127.4 674.2,127.1 675,126.9 675.9,126.9 676.6,126.8 677.1,126.8 677.4,130.4 676.8,130.5 676.1,130.5 675.5,130.6 675.1,130.7 675.1,130.7 674.9,130.8 674.6,131 674.2,131.3 673.8,131.7 673.4,131.9 673.2,132.2 672.8,132.8 672.3,133.4 671.8,134.1 670.6,134.4"/>
<polygon fill="#fff" points="597.6,130.3 600.5,130.3 600.1,138 600.5,146.7 598.9,146.7 598.4,138"/>
<polygon fill="#fff" points="631.4,130.3 634.5,130.3 634.2,141.9 633.8,151.9 631.8,151.9 632.2,141.9"/>
<polygon fill="#fff" points="666.3,131.8 670.1,131.4 672.1,139.9 674,146.1 666.3,144.8"/>
</g>
<clipPath id="c20"><rect x="131" y="197" width="104.8" height="81"/></clipPath>
<g clip-path="url(#c20)">
<polygon fill="#7eb6d6" points="130,215.7 130.8,215.4 132,215 133.4,214.5 134.8,214.1 136.3,213.7 137.8,213.4 139.4,213.1 141.1,212.8 142.7,212.6 144.2,212.6 145.6,212.6 146.9,212.8 148.2,213 149.4,213.3 150.5,213.7 151.6,214.1 152.6,214.5 153.5,215 154.4,215.5 155.2,216 156,216.6 156.7,217.2 157.3,217.8 157.9,218.4 158.4,218.9 158.9,219.3 159.3,219.8 159.7,220.2 160,220.5 160.3,220.8 160.3,220.8 160.5,220.4 160.9,219.8 161.3,219.2 161.8,218.5 162.3,217.9 163,217.4 163.7,216.8 164.4,216.3 165.3,215.7 166.3,215.3 167.4,214.8 168.6,214.3 169.9,213.9 171.3,213.6 172.6,213.4 173.9,213.3 175.2,213.2 176.5,213.3 177.7,213.5 178.9,213.7 180,214 181,214.3 181.9,214.8 182.8,215.2 183.6,215.7 184.4,216.2 185.1,216.8 185.7,217.3 186.3,217.9 186.8,218.4 187.3,218.9 187.7,219.5 188.1,220 188.4,220.5 188.7,220.8 188.7,220.8 188.9,220.3 189.3,219.7 189.7,219 190.2,218.3 190.7,217.6 191.4,217 192.1,216.4 192.8,215.8 193.7,215.3 194.7,214.8 195.8,214.3 196.9,213.9 198.2,213.5 199.6,213.2 201,212.9 202.5,212.6 204,212.4 205.6,212.2 207.3,212.1 208.9,212.1 210.5,212.2 212.1,212.3 213.7,212.5 215.3,212.8 216.8,213.2 218.2,213.7 219.5,214.3 220.8,215 222,215.7 223.1,216.4 224,217.1 224.7,217.8 225.4,218.6 226,219.3 226.5,220 227,220.6 227.4,221.1 227.7,221.6 227.9,222 228.1,222.4 228.1,222.4 228.4,222 228.7,221.6 229.2,221.1 229.6,220.5 230.2,220 230.7,219.4 231.3,218.9 232,218.3 232.6,217.8 233.3,217.3 234,216.9 234.9,216.6 235.6,216.4 236.3,216.2 236.8,216 236.8,279 130,279"/>
<polygon fill="#0a488c" points="130,215.7 130.8,215.4 132,215 133.4,214.5 134.8,214.1 136.3,213.7 137.8,213.4 139.4,213.1 141.1,212.8 142.7,212.6 144.2,212.6 145.6,212.6 146.9,212.8 148.2,213 149.4,213.3 150.5,213.7 151.6,214.1 152.6,214.5 153.5,215 154.4,215.5 155.2,216 156,216.6 156.7,217.2 157.3,217.8 157.9,218.4 158.4,218.9 158.9,219.3 159.3,219.8 159.7,220.2 160,220.5 160.3,220.8 159.4,221.7 158.4,222.2 157.7,222.2 157.1,222 156.4,221.8 155.8,221.6 155,221.2 154.3,220.8 153.7,220.5 153.1,220.3 152.5,220.1 151.8,219.8 151,219.6 150.3,219.4 149.5,219.2 148.7,219.1 147.8,218.9 146.9,218.8 146,218.8 145.1,218.7 144.2,218.8 143.2,218.9 141.9,219.1 140.5,219.4 139.1,219.6 137.8,219.9 136.6,220.2 135.4,220.5 134.1,220.9 132.9,221.3 132.1,221.5"/>
<polygon fill="#0a488c" points="160.3,220.8 160.5,220.4 160.9,219.8 161.3,219.2 161.8,218.5 162.3,217.9 163,217.4 163.7,216.8 164.4,216.3 165.3,215.7 166.3,215.3 167.4,214.8 168.6,214.3 169.9,213.9 171.3,213.6 172.6,213.4 173.9,213.3 175.2,213.2 176.5,213.3 177.7,213.5 178.9,213.7 180,214 181,214.3 181.9,214.8 182.8,215.2 183.6,215.7 184.4,216.2 185.1,216.8 185.7,217.3 186.3,217.9 186.8,218.4 187.3,218.9 187.7,219.5 188.1,220 188.4,220.5 188.7,220.8 187.7,221.5 186.3,222 185.5,221.9 184.8,221.8 184.2,221.6 183.6,221.4 183,221.2 182.4,220.9 181.8,220.7 181.3,220.5 180.7,220.4 180,220.2 179.3,220 178.7,219.9 178.1,219.8 177.5,219.7 176.8,219.7 175.9,219.7 175,219.6 174.2,219.6 173.4,219.7 172.6,219.8 171.6,219.9 170.6,220.1 169.5,220.3 168.6,220.5 168,220.6 167.3,220.7 166.7,220.9 166.1,221.1 165.5,221.2 165,221.2 164.4,221.4 163.7,221.6 162.9,221.8 161.4,221.5"/>
<polygon fill="#0a488c" points="188.7,220.8 188.9,220.3 189.3,219.7 189.7,219 190.2,218.3 190.7,217.6 191.4,217 192.1,216.4 192.8,215.8 193.7,215.3 194.7,214.8 195.8,214.3 196.9,213.9 198.2,213.5 199.6,213.2 201,212.9 202.5,212.6 204,212.4 205.6,212.2 207.3,212.1 208.9,212.1 210.5,212.2 212.1,212.3 213.7,212.5 215.3,212.8 216.8,213.2 218.2,213.7 219.5,214.3 220.8,215 222,215.7 223.1,216.4 224,217.1 224.7,217.8 225.4,218.6 226,219.3 226.5,220 227,220.6 227.4,221.1 227.7,221.6 227.9,222 228.1,222.4 227,223 225.8,223.3 225.2,223.1 224.6,222.9 224.1,222.7 223.5,222.4 222.7,222 222,221.5 221.3,221.1 220.7,220.8 220,220.6 219.2,220.3 218.1,219.9 217,219.5 216,219.2 215,219 213.9,218.9 212.7,218.7 211.4,218.6 210.1,218.5 208.8,218.5 207.5,218.5 206.2,218.6 204.8,218.6 203.4,218.8 202.1,218.9 200.9,219 199.8,219.2 198.7,219.3 197.7,219.5 196.9,219.6 196.3,219.7 195.6,219.9 195,220.1 194.4,220.3 193.8,220.5 193.3,220.7 192.7,220.9 192,221.3 191.2,221.6 189.8,221.4"/>
<polygon fill="#0a488c" points="228.1,222.4 228.4,222 228.7,221.6 229.2,221.1 229.6,220.5 230.2,220 230.7,219.4 231.3,218.9 232,218.3 232.6,217.8 233.3,217.3 234,216.9 234.9,216.6 235.6,216.4 236.3,216.2 236.8,216 238.6,221.9 238.1,222.2 237.5,222.5 236.9,222.7 236.6,222.8 236.5,222.8 236.4,222.8 235.9,223 235.3,223.2 234.6,223.5 233.9,223.7 233.3,223.9 232.5,224 231.7,224 230.8,224 229.1,223.2"/>
</g>
<clipPath id="c21"><rect x="277.8" y="197" width="104.8" height="81"/></clipPath>
<g clip-path="url(#c21)">
<polygon fill="#7eb6d6" points="276.8,211 278.2,210.8 280.1,210.6 282.4,210.3 284.6,210 286.6,209.9 288.3,209.8 289.9,209.7 291.5,209.7 293,209.7 294.3,209.9 295.7,210.1 296.9,210.3 298.1,210.6 299.2,211 300.1,211.4 301,211.9 301.8,212.4 302.5,213 303.1,213.6 303.6,214.3 304.1,215.1 304.6,216 305,216.9 305.3,217.6 305.6,218.2 305.9,218.2 306.2,217.5 306.5,216.5 306.9,215.4 307.3,214.3 307.9,213.3 308.5,212.5 309.1,211.8 309.8,211 310.7,210.4 311.8,209.9 313,209.4 314.5,209.1 316.1,208.8 317.8,208.6 319.5,208.5 321.3,208.4 323.4,208.5 325.4,208.5 327.4,208.7 329.2,208.9 330.8,209.2 332.2,209.6 333.6,210 334.8,210.5 335.9,211 336.8,211.6 337.6,212.3 338.2,212.9 338.7,213.6 339.2,214.3 339.7,215 340,215.8 340.3,216.5 340.6,217.2 340.8,217.6 341.2,217.6 341.4,217.2 341.7,216.5 342,215.8 342.5,215.1 343.1,214.3 343.8,213.5 344.5,212.7 345.3,211.9 346.3,211.1 347.5,210.4 349,209.9 350.7,209.5 352.6,209.1 354.4,208.9 356.2,208.7 358,208.7 359.9,208.8 361.7,208.9 363.4,209.2 364.9,209.5 366.3,209.8 367.6,210.3 368.8,210.7 369.8,211.3 370.8,211.8 371.5,212.4 372.2,213 372.7,213.6 373.2,214.2 373.7,214.9 374.1,215.6 374.6,216.4 375,217.1 375.3,217.7 375.6,218.2 376.6,218.2 376.7,217.8 376.8,217.3 376.9,216.6 377.2,215.9 377.5,215.3 378,214.6 378.5,213.8 379.1,213 379.8,212.3 380.4,211.8 381.1,211.5 381.8,211.4 382.5,211.4 383.2,211.4 383.6,211.4 383.6,279 276.8,279"/>
<polygon fill="#0a488c" points="276.8,211 278.2,210.8 280.1,210.6 282.4,210.3 284.6,210 286.6,209.9 288.3,209.8 289.9,209.7 291.5,209.7 293,209.7 294.3,209.9 295.7,210.1 296.9,210.3 298.1,210.6 299.2,211 300.1,211.4 301,211.9 301.8,212.4 302.5,213 303.1,213.6 303.6,214.3 304.1,215.1 304.6,216 305,216.9 305.3,217.6 305.6,218.2 304.5,218.6 303.6,218.4 303.1,217.7 302.6,217 302.1,216.3 301.6,215.8 301.1,215.4 300.6,215 300.1,214.6 299.5,214.3 298.9,214 298.1,213.7 297.2,213.5 296.2,213.3 295.1,213.1 294,213 292.8,212.9 291.4,212.9 290,213 288.5,213 286.9,213.1 285,213.3 282.8,213.6 280.5,213.8 278.6,214.1 277.2,214.2"/>
<polygon fill="#0a488c" points="305.9,218.2 306.2,217.5 306.5,216.5 306.9,215.4 307.3,214.3 307.9,213.3 308.5,212.5 309.1,211.8 309.8,211 310.7,210.4 311.8,209.9 313,209.4 314.5,209.1 316.1,208.8 317.8,208.6 319.5,208.5 321.3,208.4 323.4,208.5 325.4,208.5 327.4,208.7 329.2,208.9 330.8,209.2 332.2,209.6 333.6,210 334.8,210.5 335.9,211 336.8,211.6 337.6,212.3 338.2,212.9 338.7,213.6 339.2,214.3 339.7,215 340,215.8 340.3,216.5 340.6,217.2 340.8,217.6 339.7,218 338.9,217.8 338.4,217.3 338,216.7 337.6,216.2 337.2,215.7 336.7,215.2 336.1,214.7 335.6,214.2 335.1,213.9 334.5,213.6 333.6,213.2 332.6,212.9 331.4,212.6 330.1,212.3 328.7,212.1 327.1,211.9 325.2,211.8 323.3,211.8 321.4,211.7 319.7,211.8 318.1,211.9 316.5,212 315.1,212.2 313.9,212.4 312.9,212.7 312.3,212.9 311.7,213.3 311.2,213.7 310.7,214.2 310.1,214.8 309.6,215.4 309.1,216.3 308.6,217.2 308,218.1 307,218.6"/>
<polygon fill="#0a488c" points="341.2,217.6 341.4,217.2 341.7,216.5 342,215.8 342.5,215.1 343.1,214.3 343.8,213.5 344.5,212.7 345.3,211.9 346.3,211.1 347.5,210.4 349,209.9 350.7,209.5 352.6,209.1 354.4,208.9 356.2,208.7 358,208.7 359.9,208.8 361.7,208.9 363.4,209.2 364.9,209.5 366.3,209.8 367.6,210.3 368.8,210.7 369.8,211.3 370.8,211.8 371.5,212.4 372.2,213 372.7,213.6 373.2,214.2 373.7,214.9 374.1,215.6 374.6,216.4 375,217.1 375.3,217.7 375.6,218.2 374.6,218.7 373.7,218.6 373.2,218.1 372.6,217.5 372.1,216.9 371.6,216.4 371.1,215.8 370.6,215.3 370.1,214.9 369.7,214.6 369.2,214.2 368.4,213.9 367.5,213.5 366.5,213.2 365.5,212.9 364.3,212.6 362.9,212.4 361.3,212.2 359.6,212 358,212 356.4,212 354.8,212.1 353.1,212.3 351.4,212.6 349.9,212.9 348.8,213.2 347.9,213.6 347.2,214 346.5,214.6 345.8,215.3 345.1,215.9 344.5,216.4 344,216.9 343.5,217.5 343,218 342.2,218.1"/>
<polygon fill="#0a488c" points="376.6,218.2 376.7,217.8 376.8,217.3 376.9,216.6 377.2,215.9 377.5,215.3 378,214.6 378.5,213.8 379.1,213 379.8,212.3 380.4,211.8 381.1,211.5 381.8,211.4 382.5,211.4 383.2,211.4 383.6,211.4 383.6,214.6 383.1,214.7 382.5,214.7 382.1,214.7 382,214.7 382.1,214.6 382,214.7 381.6,215.1 381,215.7 380.5,216.3 380,216.7 379.7,217 379.4,217.4 379,217.8 378.6,218.3 377.7,218.5"/>
<polygon fill="#fff" points="304,215.3 307.5,215.3 307.3,228.8 307.7,246.6 306.5,246.6 305.9,232.7"/>
<polygon fill="#fff" points="339.8,215.7 342.5,215.7 341.3,232.7 340.6,239.8 337.9,239.8 338.8,232.7"/>
<polygon fill="#fff" points="374.6,216.8 377.7,216.8 379.1,226.9 381,233.7 374,233.7 374.8,228.8"/>
</g>
<clipPath id="c22"><rect x="424.5" y="197" width="104.8" height="81"/></clipPath>
<g clip-path="url(#c22)">
<polygon fill="#7eb6d6" points="423.5,210.9 424.3,210.9 425.4,210.8 426.7,210.7 428,210.7 429,210.7 429.8,210.8 430.5,210.9 431.1,211.1 431.7,211.3 432.3,211.3 433,211.2 433.6,211 434.3,210.8 435,210.6 435.7,210.4 436.4,210.3 437.3,210.3 438.1,210.3 438.9,210.3 439.7,210.4 440.4,210.6 441.1,210.8 441.8,211.1 442.4,211.4 443,211.7 443.5,212.1 443.9,212.6 444.3,213 444.7,213.5 445,214 445.3,214.5 445.6,215 445.9,215.5 446.2,216 446.3,216.3 447.1,216 447.1,215.7 447.2,215.4 447.2,214.9 447.3,214.5 447.4,214 447.6,213.5 447.8,212.9 448.1,212.4 448.5,211.8 449,211.3 449.6,210.9 450.4,210.5 451.3,210.2 452.2,209.9 453,209.6 453.8,209.4 454.6,209.2 455.4,209.1 456.2,209.1 457,209.1 457.7,209.1 458.4,209.3 459.1,209.5 459.7,209.7 460.3,210 460.9,210.3 461.5,210.7 462.1,211.1 462.6,211.6 463,212 463.4,212.5 463.7,213 464,213.6 464.3,214.1 464.5,214.4 464.5,214.4 464.6,214 464.8,213.4 465,212.6 465.3,211.9 465.7,211.3 466.2,210.8 466.8,210.3 467.4,209.9 468.2,209.5 469,209.1 470,208.7 471.1,208.3 472.3,207.9 473.4,207.6 474.3,207.3 475,207.1 475.5,206.9 476,206.8 476.4,206.7 477,206.7 477.7,206.7 478.5,206.8 479.4,206.9 480.2,207.1 481,207.3 481.7,207.6 482.4,208 483.1,208.4 483.8,208.9 484.3,209.3 484.8,209.8 485.3,210.4 485.7,210.9 486,211.5 486.3,212 486.6,212.5 486.8,213.1 486.9,213.6 487,214.1 487.1,214.4 489.3,213.3 489.3,213.3 489.3,213.2 489.4,213.1 489.5,213 489.7,212.7 489.9,212.2 490.3,211.5 490.6,210.8 491.1,210.2 491.7,209.6 492.3,209.2 493.1,208.8 493.9,208.5 494.7,208.2 495.7,208 496.7,207.8 497.8,207.7 498.9,207.7 500,207.7 501,207.7 501.9,207.9 502.7,208.3 503.5,208.6 504.2,208.9 505,209.1 505.8,209 506.6,208.8 507.4,208.5 508.2,208.2 509,208 509.8,207.9 510.6,207.8 511.4,207.8 512.2,207.9 513,208 513.7,208.2 514.4,208.5 515.1,208.8 515.8,209.2 516.3,209.6 516.8,210 517.3,210.5 517.7,211 518,211.5 518.3,212 518.6,212.6 518.7,213.3 518.8,213.9 518.9,214.5 519,214.9 523.4,215.3 523.6,215 523.9,214.5 524.3,214 524.6,213.5 525,213.1 525.4,212.7 525.7,212.4 526.1,212.2 526.5,211.9 527,211.7 527.6,211.6 528.4,211.5 529.2,211.4 529.8,211.4 530.3,211.3 530.3,279 423.5,279"/>
<polygon fill="#0a488c" points="423.5,210.9 424.3,210.9 425.4,210.8 426.7,210.7 428,210.7 429,210.7 429.8,210.8 430.5,210.9 431.1,211.1 431.7,211.3 432.3,211.3 433,211.2 433.6,211 434.3,210.8 435,210.6 435.7,210.4 436.4,210.3 437.3,210.3 438.1,210.3 438.9,210.3 439.7,210.4 440.4,210.6 441.1,210.8 441.8,211.1 442.4,211.4 443,211.7 443.5,212.1 443.9,212.6 444.3,213 444.7,213.5 445,214 445.3,214.5 445.6,215 445.9,215.5 446.2,216 446.3,216.3 445.9,216.5 445.3,216.4 444.8,216.1 444.4,215.8 443.9,215.4 443.5,215 443.1,214.7 442.7,214.3 442.3,214 441.9,213.8 441.6,213.7 441.2,213.6 440.7,213.5 440.2,213.3 439.7,213.3 439.2,213.2 438.6,213.2 438,213.3 437.4,213.4 436.7,213.5 436.2,213.6 435.8,213.7 435.4,213.9 434.7,214.2 433.7,214.5 432.5,214.7 431.2,214.6 430.2,214.4 429.6,214.2 429.2,214.1 428.8,214.1 428,214.1 426.9,214.1 425.6,214.1 424.5,214.2 423.7,214.2"/>
<polygon fill="#0a488c" points="447.1,216 447.1,215.7 447.2,215.4 447.2,214.9 447.3,214.5 447.4,214 447.6,213.5 447.8,212.9 448.1,212.4 448.5,211.8 449,211.3 449.6,210.9 450.4,210.5 451.3,210.2 452.2,209.9 453,209.6 453.8,209.4 454.6,209.2 455.4,209.1 456.2,209.1 457,209.1 457.7,209.1 458.4,209.3 459.1,209.5 459.7,209.7 460.3,210 460.9,210.3 461.5,210.7 462.1,211.1 462.6,211.6 463,212 463.4,212.5 463.7,213 464,213.6 464.3,214.1 464.5,214.4 464,214.6 463.3,214.6 462.7,214.3 462.2,214 461.7,213.7 461.3,213.5 460.9,213.4 460.4,213.1 459.9,213 459.4,212.8 459,212.7 458.5,212.6 458.1,212.5 457.6,212.4 457.2,212.4 456.8,212.4 456.4,212.4 455.8,212.5 455.2,212.6 454.6,212.7 453.9,212.8 453.2,213 452.4,213.2 451.7,213.3 451.1,213.5 450.8,213.5 450.6,213.6 450.3,213.7 450,213.9 449.6,214.3 449.3,214.7 449,214.9 448.8,215.2 448.5,215.6 448.2,215.9 447.6,216.1"/>
<polygon fill="#0a488c" points="464.5,214.4 464.6,214 464.8,213.4 465,212.6 465.3,211.9 465.7,211.3 466.2,210.8 466.8,210.3 467.4,209.9 468.2,209.5 469,209.1 470,208.7 471.1,208.3 472.3,207.9 473.4,207.6 474.3,207.3 475,207.1 475.5,206.9 476,206.8 476.4,206.7 477,206.7 477.7,206.7 478.5,206.8 479.4,206.9 480.2,207.1 481,207.3 481.7,207.6 482.4,208 483.1,208.4 483.8,208.9 484.3,209.3 484.8,209.8 485.3,210.4 485.7,210.9 486,211.5 486.3,212 486.6,212.5 486.8,213.1 486.9,213.6 487,214.1 487.1,214.4 486.6,214.5 486,214.3 485.6,214 485.3,213.6 484.9,213.2 484.6,212.9 484.2,212.6 483.8,212.2 483.3,211.9 482.9,211.6 482.5,211.4 482.1,211.1 481.5,210.9 481,210.7 480.4,210.5 479.9,210.3 479.4,210.2 478.8,210.2 478.1,210.1 477.5,210.1 477,210.1 476.8,210.1 476.8,210.1 476.6,210.1 476.1,210.3 475.3,210.6 474.3,210.8 473.2,211.1 472.1,211.3 471,211.5 470.2,211.8 469.5,212 468.8,212.2 468.2,212.4 467.8,212.6 467.4,212.7 467.1,212.9 466.6,213.3 466.2,213.8 465.7,214.3 465,214.5"/>
<polygon fill="#0a488c" points="489.3,213.3 489.3,213.3 489.3,213.2 489.4,213.1 489.5,213 489.7,212.7 489.9,212.2 490.3,211.5 490.6,210.8 491.1,210.2 491.7,209.6 492.3,209.2 493.1,208.8 493.9,208.5 494.7,208.2 495.7,208 496.7,207.8 497.8,207.7 498.9,207.7 500,207.7 501,207.7 501.9,207.9 502.7,208.3 503.5,208.6 504.2,208.9 505,209.1 505.8,209 506.6,208.8 507.4,208.5 508.2,208.2 509,208 509.8,207.9 510.6,207.8 511.4,207.8 512.2,207.9 513,208 513.7,208.2 514.4,208.5 515.1,208.8 515.8,209.2 516.3,209.6 516.8,210 517.3,210.5 517.7,211 518,211.5 518.3,212 518.6,212.6 518.7,213.3 518.8,213.9 518.9,214.5 519,214.9 518.5,215 517.9,214.7 517.5,214.2 517.2,213.6 516.8,213.1 516.5,212.8 516.2,212.6 515.9,212.3 515.5,212.1 515.2,211.8 514.8,211.6 514.3,211.4 513.8,211.3 513.3,211.1 512.8,211 512.4,210.9 511.9,210.9 511.4,211 510.8,211.1 510.1,211.1 509.6,211.3 509.1,211.4 508.5,211.6 507.7,212 506.4,212.3 504.9,212.5 503.3,212.2 502.1,211.7 501.3,211.4 500.9,211.1 500.5,211 499.9,210.9 499,210.9 498,210.8 497.1,210.8 496.2,210.9 495.5,210.9 494.7,211 494.1,211.1 493.5,211.3 493.1,211.4 492.8,211.5 492.3,211.9 491.8,212.3 491.2,212.9 490.8,213.3 490.4,213.5 490.2,213.6 490,213.6 489.9,213.6 489.7,213.6"/>
<polygon fill="#0a488c" points="523.4,215.3 523.6,215 523.9,214.5 524.3,214 524.6,213.5 525,213.1 525.4,212.7 525.7,212.4 526.1,212.2 526.5,211.9 527,211.7 527.6,211.6 528.4,211.5 529.2,211.4 529.8,211.4 530.3,211.3 530.6,214.6 530.1,214.7 529.4,214.8 528.8,214.9 528.2,214.9 528,214.9 527.9,214.9 527.8,214.8 527.6,214.8 527.3,214.9 527,215 526.6,215.1 526.1,215.3 525.5,215.6 524.8,215.8 523.8,215.6"/>
<polygon fill="#fff" points="445.7,214.7 447.5,214.7 449,226.7 450.3,233.3 453,238.7 455.9,246.7 457,250.7 454.1,250.7 454.1,245.3 452.3,238.7 449.7,234.4 447,234 446.6,226.7"/>
<polygon fill="#fff" points="486.6,213.1 489.4,212.8 487.9,226.7 488.3,240 489.3,246 483.7,246.9 485.3,240 486.3,226.7"/>
<polygon fill="#fff" points="518.3,214.1 523.4,214.1 524.3,222.7 525.7,228.3 520.3,228.7 519,222.7"/>
<polyline fill="none" stroke="#fff" stroke-width="0.5" stroke-linejoin="round" points="483.7,246.9 481.3,252"/>
<polyline fill="none" stroke="#fff" stroke-width="0.5" stroke-linejoin="round" points="517.7,239.3 515,251.3"/>
</g>
<clipPath id="c23"><rect x="571.3" y="197" width="104.8" height="81"/></clipPath>
<g clip-path="url(#c23)">
<polygon fill="#7eb6d6" points="570.3,210 570.9,209.9 571.8,209.8 572.8,209.6 573.8,209.5 574.7,209.3 575.3,209.2 575.9,209.1 576.4,208.9 576.8,208.8 577.3,208.7 577.9,208.5 578.4,208.4 579,208.2 579.4,208.1 579.7,208 579.7,208 580.1,207.6 580.6,207 581.3,206.4 582,205.8 582.7,205.3 583.4,205 584.2,204.8 585,204.7 585.8,204.6 586.7,204.7 587.5,204.8 588.3,205 589.2,205.3 590,205.7 590.7,206 591.3,206.3 591.9,206.7 592.4,207.1 592.9,207.5 593.3,208 593.7,208.5 594.1,209.1 594.5,209.8 594.7,210.3 594.9,210.7 596.5,210 596.5,209.8 596.5,209.6 596.5,209.4 596.6,209 596.7,208.7 596.8,208.2 597,207.7 597.3,207.1 597.6,206.5 598,206 598.5,205.6 599.2,205.1 599.9,204.8 600.6,204.5 601.3,204.3 602.1,204.2 602.9,204.2 603.8,204.3 604.6,204.5 605.3,204.7 606,204.9 606.5,205.1 607,205.4 607.5,205.7 608,206 608.5,206.3 608.9,206.7 609.3,207.1 609.7,207.5 610,208 610.3,208.5 610.6,209.1 610.9,209.8 611.2,210.3 611.3,210.7 610.7,204.3 611,203.9 611.4,203.5 611.9,202.9 612.6,202.4 613.3,202 614.3,201.6 615.5,201.3 616.7,201 617.8,200.8 618.7,200.7 619.1,200.6 619.4,200.6 619.5,200.7 619.6,200.8 620,200.9 620.6,201 621.4,201.1 622.3,201.2 623.2,201.4 624,201.6 624.8,201.9 625.6,202.2 626.4,202.6 627.2,203 628,203.3 628.7,203.7 629.4,204.1 630.1,204.5 630.8,204.9 631.3,205.3 631.8,205.7 632.3,206.1 632.7,206.5 633,206.9 633.3,207.3 633.6,207.8 633.9,208.2 634.1,208.7 634.3,209.1 634.4,209.3 638.1,209.3 638.2,209.3 638.2,209.2 638.2,209.2 638.3,209 638.4,208.7 638.5,208.2 638.6,207.5 638.8,206.7 639,206 639.3,205.3 639.8,204.7 640.4,204.1 641.1,203.6 641.9,203.1 642.7,202.7 643.5,202.3 644.4,202 645.4,201.8 646.4,201.6 647.3,201.6 648.3,201.7 649.3,201.9 650.2,202.2 651.2,202.5 652,202.9 652.8,203.4 653.5,204 654.1,204.7 654.8,205.3 655.3,206 655.9,206.7 656.4,207.5 656.9,208.2 657.3,208.9 657.6,209.3 660.7,209.3 660.7,209.3 660.8,209.2 660.8,209.1 660.9,208.9 661.1,208.7 661.2,208.2 661.3,207.7 661.4,207.1 661.6,206.5 662,206 662.6,205.6 663.4,205.3 664.3,205 665.2,204.8 666,204.7 666.8,204.6 667.6,204.7 668.4,204.8 669.2,205.1 670,205.3 670.7,205.7 671.4,206.2 672,206.7 672.6,207.3 673.3,207.7 674.1,208.1 675,208.5 675.8,208.8 676.6,209.1 677.1,209.3 677.1,279 570.3,279"/>
<polygon fill="#0a488c" points="570.3,210 570.9,209.9 571.8,209.8 572.8,209.6 573.8,209.5 574.7,209.3 575.3,209.2 575.9,209.1 576.4,208.9 576.8,208.8 577.3,208.7 577.9,208.5 578.4,208.4 579,208.2 579.4,208.1 579.7,208 579.9,208.5 579.8,209.5 579.5,210.1 579.1,210.7 578.6,211.2 578.1,211.5 577.7,211.8 577.2,212.1 576.7,212.3 576,212.5 575.3,212.7 574.4,212.7 573.3,212.6 572.2,212.3 571.2,211.7 570.4,210.5"/>
<polygon fill="#0a488c" points="579.7,208 580.1,207.6 580.6,207 581.3,206.4 582,205.8 582.7,205.3 583.4,205 584.2,204.8 585,204.7 585.8,204.6 586.7,204.7 587.5,204.8 588.3,205 589.2,205.3 590,205.7 590.7,206 591.3,206.3 591.9,206.7 592.4,207.1 592.9,207.5 593.3,208 593.7,208.5 594.1,209.1 594.5,209.8 594.7,210.3 594.9,210.7 594.5,210.9 593.6,210.9 593,210.6 592.4,210.2 591.8,209.9 591.4,209.7 591,209.5 590.6,209.3 590.2,209.2 589.7,209 589.2,208.9 588.6,208.7 587.9,208.5 587.3,208.3 586.8,208.1 586.4,208 585.9,207.9 585.4,207.9 584.8,207.9 584.3,207.8 583.9,207.8 583.5,207.8 582.8,208 582,208.3 581.1,208.6 580.1,208.4"/>
<polygon fill="#0a488c" points="596.5,210 596.5,209.8 596.5,209.6 596.5,209.4 596.6,209 596.7,208.7 596.8,208.2 597,207.7 597.3,207.1 597.6,206.5 598,206 598.5,205.6 599.2,205.1 599.9,204.8 600.6,204.5 601.3,204.3 602.1,204.2 602.9,204.2 603.8,204.3 604.6,204.5 605.3,204.7 606,204.9 606.5,205.1 607,205.4 607.5,205.7 608,206 608.5,206.3 608.9,206.7 609.3,207.1 609.7,207.5 610,208 610.3,208.5 610.6,209.1 610.9,209.8 611.2,210.3 611.3,210.7 610.9,210.9 610,210.8 609.5,210.4 608.9,210 608.4,209.6 608,209.4 607.7,209.2 607.3,209 606.9,208.8 606.6,208.6 606.2,208.5 605.8,208.3 605.5,208.1 605.1,208 604.8,208 604.4,207.9 603.9,207.8 603.3,207.7 602.7,207.6 602.2,207.6 601.9,207.5 601.6,207.5 601.2,207.6 600.7,207.7 600.3,207.9 599.9,208 599.7,208 599.4,208.1 599.1,208.5 598.7,208.9 598.4,209.2 598.1,209.4 597.9,209.6 597.7,209.8 597.5,210 597,210.1"/>
<polygon fill="#0a488c" points="610.7,204.3 611,203.9 611.4,203.5 611.9,202.9 612.6,202.4 613.3,202 614.3,201.6 615.5,201.3 616.7,201 617.8,200.8 618.7,200.7 619.1,200.6 619.4,200.6 619.5,200.7 619.6,200.8 620,200.9 620.6,201 621.4,201.1 622.3,201.2 623.2,201.4 624,201.6 624.8,201.9 625.6,202.2 626.4,202.6 627.2,203 628,203.3 628.7,203.7 629.4,204.1 630.1,204.5 630.8,204.9 631.3,205.3 631.8,205.7 632.3,206.1 632.7,206.5 633,206.9 633.3,207.3 633.6,207.8 633.9,208.2 634.1,208.7 634.3,209.1 634.4,209.3 633.9,209.6 633.3,209.5 632.9,209.2 632.5,209 632.1,208.7 631.7,208.5 631.4,208.3 631,208.1 630.6,207.9 630.2,207.7 629.7,207.4 629.2,207.2 628.6,207 628,206.7 627.3,206.4 626.6,206.2 625.8,205.9 625.1,205.6 624.3,205.3 623.6,205 623,204.9 622.5,204.7 621.8,204.6 621,204.5 620.2,204.3 619.4,204.2 618.4,203.9 617.6,203.4 618.3,203.7 619.3,203.8 619.1,203.8 618.4,203.9 617.3,203.9 616.1,204 615.1,204.1 614.3,204.1 613.8,204.1 613.2,204.3 612.5,204.5 611.8,204.7 611,204.6"/>
<polygon fill="#0a488c" points="638.1,209.3 638.2,209.3 638.2,209.2 638.2,209.2 638.3,209 638.4,208.7 638.5,208.2 638.6,207.5 638.8,206.7 639,206 639.3,205.3 639.8,204.7 640.4,204.1 641.1,203.6 641.9,203.1 642.7,202.7 643.5,202.3 644.4,202 645.4,201.8 646.4,201.6 647.3,201.6 648.3,201.7 649.3,201.9 650.2,202.2 651.2,202.5 652,202.9 652.8,203.4 653.5,204 654.1,204.7 654.8,205.3 655.3,206 655.9,206.7 656.4,207.5 656.9,208.2 657.3,208.9 657.6,209.3 657.2,209.6 656.3,209.5 655.5,209.1 654.8,208.6 654.1,208 653.4,207.6 652.8,207.1 652.1,206.6 651.5,206.2 651,205.9 650.4,205.7 649.9,205.5 649.2,205.3 648.5,205.1 647.8,205 647.2,205 646.7,205 646,205.1 645.3,205.2 644.6,205.4 644,205.5 643.4,205.7 642.9,206 642.3,206.2 641.8,206.5 641.4,206.7 641.1,206.9 640.8,207.3 640.5,207.8 640.1,208.4 639.7,209 639.4,209.3 639.1,209.5 638.9,209.7 638.8,209.7 638.6,209.6"/>
<polygon fill="#0a488c" points="660.7,209.3 660.7,209.3 660.8,209.2 660.8,209.1 660.9,208.9 661.1,208.7 661.2,208.2 661.3,207.7 661.4,207.1 661.6,206.5 662,206 662.6,205.6 663.4,205.3 664.3,205 665.2,204.8 666,204.7 666.8,204.6 667.6,204.7 668.4,204.8 669.2,205.1 670,205.3 670.7,205.7 671.4,206.2 672,206.7 672.6,207.3 673.3,207.7 674.1,208.1 675,208.5 675.8,208.8 676.6,209.1 677.1,209.3 675.9,212.3 675.4,212.2 674.6,211.9 673.7,211.6 672.7,211.2 671.6,210.7 670.6,210 669.8,209.4 669.3,208.8 668.9,208.5 668.6,208.3 668.3,208.2 667.8,208 667.2,207.8 666.7,207.7 666.2,207.6 665.7,207.6 665,207.6 664.3,207.7 663.7,207.7 663.5,207.7 663.4,207.5 663.2,207.6 663,208 662.7,208.5 662.3,209.1 662,209.4 661.7,209.6 661.5,209.8 661.3,209.8 661.1,209.6"/>
<polygon fill="#fff" points="572,210.4 573.3,210.9 573.7,216 574.7,221.1 572,221.6"/>
<polygon fill="#fff" points="594.7,209.3 596.7,209.3 599.3,218.7 602.9,227.3 603.3,230.7 601.3,237.3 602,244 604,250.9 599.3,248.7 600,242.7 598.7,236 599.3,228 596.7,218.7"/>
<polygon fill="#fff" points="610.4,206.7 612,206.9 612.7,212.7 611.7,212.7"/>
<polygon fill="#fff" points="578,229.3 578.7,229.3 580.3,236 579.7,242.7 578.4,248 579.7,254.3 574.7,253.3 577.3,244 578.4,236"/>
<polygon fill="#fff" points="634.1,208.7 638.3,208.7 637.6,214.7 635.3,222.7 634.4,230.7 634.4,237.3 636,244 637.3,247.3 633.3,244.7 629.1,244 629.3,241.3 631.7,236 630,230.7 632.7,221.3 635.3,213.3"/>
<polygon fill="#fff" points="657.6,208.8 660.7,208.8 660,216 659.7,222.7 658.9,228 660,231.3 660.4,242.7 660.8,258.7 659.5,258.7 658.7,249.3 658.9,242.7 658.7,231.3 656.3,228 657.3,222.7 658.7,216"/>
<polygon fill="#fff" points="626,252 627.7,252 627.5,258.7 626.1,258.7"/>
</g>
<clipPath id="c30"><rect x="131" y="282" width="104.8" height="81"/></clipPath>
<g clip-path="url(#c30)">
<polygon fill="#7eb6d6" points="130,297.9 130.8,297.6 132,297.2 133.4,296.8 134.8,296.3 136.3,296 137.8,295.7 139.4,295.5 141.1,295.3 142.7,295.2 144.2,295.2 145.6,295.3 146.9,295.4 148.2,295.7 149.4,296 150.5,296.3 151.6,296.7 152.6,297.1 153.5,297.6 154.4,298.2 155.2,298.7 156,299.2 156.7,299.7 157.3,300.2 157.8,300.8 158.4,301.4 158.9,302.1 159.4,302.9 159.9,303.7 160.3,304.3 160.6,304.8 161.9,304.8 162.1,304.3 162.5,303.7 162.9,302.9 163.4,302.1 163.9,301.4 164.4,300.8 165,300.2 165.6,299.7 166.3,299.2 167.1,298.7 168,298.2 169.1,297.7 170.2,297.3 171.4,296.9 172.6,296.6 173.8,296.4 175.1,296.3 176.4,296.2 177.7,296.2 178.9,296.3 180,296.4 181,296.6 181.9,296.9 182.8,297.2 183.6,297.6 184.4,298 185.1,298.4 185.8,298.9 186.5,299.5 187.1,300.3 187.8,301.2 188.4,302.3 189,303.5 189.6,304.6 189.9,305.3 190.6,305.3 190.8,304.8 191,304 191.4,303.1 191.8,302.2 192.3,301.4 192.9,300.7 193.6,300 194.4,299.3 195.3,298.7 196.2,298.2 197.3,297.7 198.5,297.3 199.8,296.9 201.2,296.6 202.6,296.3 204,296.1 205.6,295.9 207.2,295.8 208.8,295.7 210.4,295.7 212.1,295.7 213.7,295.8 215.4,295.9 217,296.1 218.3,296.3 219.5,296.7 220.5,297.1 221.4,297.6 222.3,298.1 223.1,298.7 223.8,299.3 224.5,299.9 225.1,300.5 225.7,301.2 226.2,301.8 226.7,302.5 227,303.2 227.4,303.9 227.6,304.6 227.8,305 230.9,305.8 231.1,305.3 231.4,304.7 231.8,304 232.1,303.3 232.5,302.6 233,302 233.4,301.4 233.9,300.7 234.4,300.2 234.9,299.8 235.3,299.5 235.8,299.3 236.2,299.2 236.5,299.2 236.8,299.1 236.8,364 130,364"/>
<polygon fill="#0a488c" points="130,297.9 130.8,297.6 132,297.2 133.4,296.8 134.8,296.3 136.3,296 137.8,295.7 139.4,295.5 141.1,295.3 142.7,295.2 144.2,295.2 145.6,295.3 146.9,295.4 148.2,295.7 149.4,296 150.5,296.3 151.6,296.7 152.6,297.1 153.5,297.6 154.4,298.2 155.2,298.7 156,299.2 156.7,299.7 157.3,300.2 157.8,300.8 158.4,301.4 158.9,302.1 159.4,302.9 159.9,303.7 160.3,304.3 160.6,304.8 159.5,305.5 158.1,305.6 157.2,305.2 156.4,304.7 155.7,304.3 155.2,304 154.7,303.8 154.2,303.6 153.7,303.4 153.1,303.2 152.5,302.9 151.7,302.6 150.9,302.3 150.2,302.1 149.5,301.9 148.7,301.8 147.9,301.7 146.9,301.5 146,301.5 145,301.4 144.1,301.4 142.9,301.5 141.6,301.7 140.2,301.8 138.8,302.1 137.6,302.3 136.5,302.5 135.2,302.8 134,303.2 132.8,303.5 131.9,303.7"/>
<polygon fill="#0a488c" points="161.9,304.8 162.1,304.3 162.5,303.7 162.9,302.9 163.4,302.1 163.9,301.4 164.4,300.8 165,300.2 165.6,299.7 166.3,299.2 167.1,298.7 168,298.2 169.1,297.7 170.2,297.3 171.4,296.9 172.6,296.6 173.8,296.4 175.1,296.3 176.4,296.2 177.7,296.2 178.9,296.3 180,296.4 181,296.6 181.9,296.9 182.8,297.2 183.6,297.6 184.4,298 185.1,298.4 185.8,298.9 186.5,299.5 187.1,300.3 187.8,301.2 188.4,302.3 189,303.5 189.6,304.6 189.9,305.3 188.8,305.9 186.8,306 185.6,305.3 184.6,304.5 183.7,303.8 183.1,303.4 182.6,303.3 182.3,303.2 181.9,303.1 181.5,303 181.1,302.9 180.6,302.8 180.1,302.7 179.6,302.7 179,302.7 178.3,302.6 177.5,302.6 176.6,302.6 175.6,302.7 174.6,302.7 173.8,302.8 173.1,302.9 172.2,303 171.3,303.2 170.5,303.4 169.8,303.6 169.3,303.7 168.9,303.8 168.5,303.9 168,304.1 167.5,304.3 167,304.5 166.3,304.8 165.5,305.3 164.6,305.7 163,305.4"/>
<polygon fill="#0a488c" points="190.6,305.3 190.8,304.8 191,304 191.4,303.1 191.8,302.2 192.3,301.4 192.9,300.7 193.6,300 194.4,299.3 195.3,298.7 196.2,298.2 197.3,297.7 198.5,297.3 199.8,296.9 201.2,296.6 202.6,296.3 204,296.1 205.6,295.9 207.2,295.8 208.8,295.7 210.4,295.7 212.1,295.7 213.7,295.8 215.4,295.9 217,296.1 218.3,296.3 219.5,296.7 220.5,297.1 221.4,297.6 222.3,298.1 223.1,298.7 223.8,299.3 224.5,299.9 225.1,300.5 225.7,301.2 226.2,301.8 226.7,302.5 227,303.2 227.4,303.9 227.6,304.6 227.8,305 226.6,305.5 225.2,305.6 224.5,305.2 223.8,304.8 223.3,304.5 222.8,304.3 222.3,304 221.7,303.7 221.1,303.4 220.6,303.2 220,302.9 219.3,302.6 218.6,302.4 218.1,302.2 217.5,302.2 216.9,302.1 216.1,302.1 214.8,302 213.4,302 211.9,302.1 210.5,302.1 209,302.1 207.6,302.1 206.2,302.2 204.9,302.3 203.6,302.4 202.5,302.5 201.3,302.7 200.3,302.8 199.4,303 198.7,303.1 198,303.3 197.4,303.4 196.9,303.6 196.3,303.9 195.8,304 195.4,304.1 194.8,304.5 194.1,305.1 193.3,305.6 191.8,305.7"/>
<polygon fill="#0a488c" points="230.9,305.8 231.1,305.3 231.4,304.7 231.8,304 232.1,303.3 232.5,302.6 233,302 233.4,301.4 233.9,300.7 234.4,300.2 234.9,299.8 235.3,299.5 235.8,299.3 236.2,299.2 236.5,299.2 236.8,299.1 238,305.2 237.6,305.3 237.3,305.4 237.6,305.4 238.2,305.2 238.8,304.8 239,304.7 238.7,304.9 238.3,305.2 237.8,305.5 237.3,305.7 236.8,305.9 236.1,306.2 235.3,306.5 234.2,306.7 232.1,306.3"/>
<polygon fill="#fff" points="227.3,302.6 231.1,302.6 229.4,309.2 228.7,309.2"/>
<polygon fill="#fff" points="189.8,303.4 190.7,303.4 190.4,306.4"/>
<polygon fill="#fff" points="160.6,302.9 161.9,302.9 161.2,305.1"/>
</g>
<clipPath id="c31"><rect x="277.8" y="282" width="104.8" height="81"/></clipPath>
<g clip-path="url(#c31)">
<polygon fill="#7eb6d6" points="276.8,297.4 278.2,297.2 280.1,296.9 282.4,296.6 284.6,296.3 286.6,296 288.3,295.8 289.9,295.7 291.5,295.6 293,295.6 294.3,295.6 295.7,295.8 296.9,296.1 298.1,296.4 299.1,296.9 300.1,297.4 301.1,298 301.9,298.8 302.7,299.6 303.4,300.4 304,301.2 304.6,302.1 305.1,303 305.5,303.8 305.9,304.6 306.1,305.1 309.4,303.2 309.4,302.9 309.4,302.6 309.3,302.3 309.3,301.8 309.4,301.2 309.6,300.6 309.7,299.8 309.9,298.9 310.3,298.1 310.8,297.4 311.5,296.7 312.4,296.1 313.4,295.5 314.5,294.9 315.6,294.5 316.8,294.1 318.1,293.8 319.5,293.5 320.9,293.4 322.4,293.3 323.9,293.4 325.6,293.5 327.2,293.8 328.8,294.1 330.1,294.5 331.3,294.9 332.4,295.5 333.4,296.1 334.2,296.7 335,297.4 335.6,298.1 336.1,298.9 336.6,299.7 337,300.5 337.3,301.2 337.6,301.9 337.7,302.6 337.9,303.2 338,303.8 338.1,304.1 340.8,303.2 340.8,302.9 340.8,302.6 340.8,302.3 340.9,301.8 341.2,301.2 341.5,300.6 341.9,299.7 342.3,298.9 342.9,298.1 343.7,297.4 344.6,296.8 345.6,296.4 346.8,296 348.1,295.7 349.5,295.4 351,295.3 352.8,295.2 354.6,295.1 356.5,295.2 358.2,295.2 359.8,295.4 361.4,295.5 363,295.8 364.5,296 365.9,296.4 367.3,296.9 368.5,297.4 369.7,298 370.8,298.6 371.7,299.3 372.5,300.1 373.1,301 373.6,301.9 373.9,302.6 374.2,303.2 379.5,303.2 379.6,302.6 379.7,301.8 379.8,300.8 380.1,300 380.4,299.3 381,298.9 381.7,298.7 382.5,298.5 383.1,298.4 383.6,298.3 383.6,364 276.8,364"/>
<polygon fill="#0a488c" points="276.8,297.4 278.2,297.2 280.1,296.9 282.4,296.6 284.6,296.3 286.6,296 288.3,295.8 289.9,295.7 291.5,295.6 293,295.6 294.3,295.6 295.7,295.8 296.9,296.1 298.1,296.4 299.1,296.9 300.1,297.4 301.1,298 301.9,298.8 302.7,299.6 303.4,300.4 304,301.2 304.6,302.1 305.1,303 305.5,303.8 305.9,304.6 306.1,305.1 304.9,305.7 303.9,305.5 303.3,304.9 302.8,304.2 302.2,303.6 301.6,303 301,302.4 300.3,301.7 299.6,301.1 299,300.7 298.4,300.3 297.7,300.1 296.9,299.8 296,299.6 295,299.4 294,299.4 292.9,299.3 291.7,299.4 290.3,299.5 288.7,299.7 287,299.9 285.1,300.1 282.9,300.4 280.7,300.7 278.7,301 277.3,301.1"/>
<polygon fill="#0a488c" points="309.4,303.2 309.4,302.9 309.4,302.6 309.3,302.3 309.3,301.8 309.4,301.2 309.6,300.6 309.7,299.8 309.9,298.9 310.3,298.1 310.8,297.4 311.5,296.7 312.4,296.1 313.4,295.5 314.5,294.9 315.6,294.5 316.8,294.1 318.1,293.8 319.5,293.5 320.9,293.4 322.4,293.3 323.9,293.4 325.6,293.5 327.2,293.8 328.8,294.1 330.1,294.5 331.3,294.9 332.4,295.5 333.4,296.1 334.2,296.7 335,297.4 335.6,298.1 336.1,298.9 336.6,299.7 337,300.5 337.3,301.2 337.6,301.9 337.7,302.6 337.9,303.2 338,303.8 338.1,304.1 336.7,304.4 335.9,304.2 335.6,303.7 335.2,303.2 334.9,302.8 334.6,302.4 334.2,301.8 333.8,301.1 333.4,300.6 333,300.2 332.5,299.8 332,299.4 331.3,299 330.6,298.7 329.8,298.3 329,298.1 327.9,297.8 326.5,297.6 325.1,297.4 323.7,297.3 322.4,297.2 321.2,297.2 320.1,297.3 318.9,297.5 317.8,297.7 316.9,298 315.9,298.3 315.1,298.6 314.3,299 313.7,299.3 313.3,299.5 313.1,299.7 312.9,299.9 312.6,300.4 312.3,301.1 312.1,301.7 311.9,302.2 311.7,302.6 311.6,303 311.4,303.2 310.8,303.4"/>
<polygon fill="#0a488c" points="340.8,303.2 340.8,302.9 340.8,302.6 340.8,302.3 340.9,301.8 341.2,301.2 341.5,300.6 341.9,299.7 342.3,298.9 342.9,298.1 343.7,297.4 344.6,296.8 345.6,296.4 346.8,296 348.1,295.7 349.5,295.4 351,295.3 352.8,295.2 354.6,295.1 356.5,295.2 358.2,295.2 359.8,295.4 361.4,295.5 363,295.8 364.5,296 365.9,296.4 367.3,296.9 368.5,297.4 369.7,298 370.8,298.6 371.7,299.3 372.5,300.1 373.1,301 373.6,301.9 373.9,302.6 374.2,303.2 373,303.8 371.9,303.7 371.3,303 370.7,302.4 370.2,302 369.7,301.7 369,301.4 368.1,301 367.1,300.6 366,300.2 364.9,299.9 363.7,299.7 362.4,299.5 361,299.3 359.5,299.2 358,299.1 356.3,299.1 354.6,299 352.9,299 351.3,299.1 350,299.2 348.8,299.3 347.8,299.5 346.9,299.7 346.1,299.9 345.7,300.1 345.3,300.2 345,300.6 344.5,301.1 344,301.8 343.6,302.3 343.3,302.6 343.2,302.6 343,303 342.8,303.2 342.1,303.4"/>
<polygon fill="#0a488c" points="379.5,303.2 379.6,302.6 379.7,301.8 379.8,300.8 380.1,300 380.4,299.3 381,298.9 381.7,298.7 382.5,298.5 383.1,298.4 383.6,298.3 384.3,302.1 383.7,302.2 383.1,302.4 382.7,302.4 382.7,302.4 383.3,301.8 383.5,301.3 383.2,301.6 382.8,302.3 382.2,303 380.8,303.4"/>
<polygon fill="#fff" points="305.9,302.2 309.6,302.2 308.9,317.7 309.4,338 307.9,338.6 306.9,317.7"/>
<polygon fill="#fff" points="337.9,302.2 341,302.2 340.4,317.7 341.7,329.3 337.3,329.7 338.4,317.7"/>
<polygon fill="#fff" points="374,301.4 379.6,301.4 381,305.1 381,309.6 374.6,309.6"/>
<polyline fill="none" stroke="#fff" stroke-width="0.5" stroke-linejoin="round" points="369.8,317.7 369,332.8"/>
</g>
<clipPath id="c32"><rect x="424.5" y="282" width="104.8" height="81"/></clipPath>
<g clip-path="url(#c32)">
<polygon fill="#7eb6d6" points="423.5,293.7 424.3,293.4 425.4,293 426.6,292.5 427.9,292 429,291.7 429.9,291.4 430.6,291.1 431.4,290.9 432.1,290.7 433,290.6 434,290.5 435.1,290.6 436.2,290.6 437.3,290.7 438.3,290.9 439.2,291.1 440.1,291.3 440.9,291.7 441.6,292 442.3,292.3 443,292.7 443.5,293 444,293.4 444.5,293.8 445,294.3 445.5,294.9 445.9,295.6 446.3,296.3 446.6,297 447,297.7 447.4,298.2 447.7,298.8 448,299.2 448.3,299.6 448.5,299.9 453,299 453,298.5 453.1,297.8 453.2,297 453.4,296.3 453.7,295.7 454.2,295.3 454.8,295 455.5,294.8 456.2,294.6 457,294.3 457.8,294.1 458.6,293.9 459.5,293.6 460.3,293.4 461,293 461.6,292.5 462.1,292 462.6,291.3 463.1,290.8 463.7,290.3 464.4,290 465.1,289.8 465.9,289.6 466.8,289.4 467.7,289.3 468.7,289.1 469.8,289 470.9,289 472,289 473,289 473.9,289.1 474.7,289.3 475.5,289.5 476.2,289.8 477,290.1 477.8,290.4 478.6,290.7 479.4,291.1 480.2,291.5 481,291.9 481.8,292.4 482.7,292.8 483.5,293.3 484.3,293.8 485,294.3 485.6,294.9 486.2,295.4 486.7,295.9 487.1,296.5 487.4,297 487.6,297.5 487.8,298 487.8,298.5 487.9,299 487.9,299.3 489.7,299.7 490,299.4 490.5,299 491.1,298.6 491.8,298.3 492.3,298.1 492.9,298 493.4,298 493.9,298.1 494.5,298.3 495,298.6 495.6,299 496.2,299.5 496.8,300.1 497.3,300.6 497.7,301 497.7,301 497.7,300.6 497.7,300.1 497.8,299.5 497.9,298.9 498.1,298.3 498.3,297.8 498.5,297.2 498.8,296.7 499.2,296.2 499.7,295.7 500.3,295.2 501,294.8 501.9,294.4 502.7,294 503.7,293.7 504.6,293.4 505.7,293.1 506.8,292.8 507.9,292.6 509,292.3 510.1,292.1 511.2,291.8 512.3,291.6 513.4,291.4 514.3,291.4 515.2,291.5 516.1,291.8 516.8,292.1 517.6,292.4 518.3,292.7 519.1,293 519.8,293.3 520.5,293.7 521.1,294 521.7,294.3 522.2,294.7 522.6,295.1 523,295.5 523.3,295.9 523.7,296.3 524,296.8 524.2,297.3 524.4,297.8 524.6,298.3 524.7,298.6 527,298.3 526.9,297.7 526.8,296.8 526.8,295.9 526.8,295 527,294.3 527.5,294 528.2,293.9 529.1,294 529.8,294 530.3,294.1 530.3,364 423.5,364"/>
<polygon fill="#0a488c" points="423.5,293.7 424.3,293.4 425.4,293 426.6,292.5 427.9,292 429,291.7 429.9,291.4 430.6,291.1 431.4,290.9 432.1,290.7 433,290.6 434,290.5 435.1,290.6 436.2,290.6 437.3,290.7 438.3,290.9 439.2,291.1 440.1,291.3 440.9,291.7 441.6,292 442.3,292.3 443,292.7 443.5,293 444,293.4 444.5,293.8 445,294.3 445.5,294.9 445.9,295.6 446.3,296.3 446.6,297 447,297.7 447.4,298.2 447.7,298.8 448,299.2 448.3,299.6 448.5,299.9 448,300.2 447.5,300.2 447,299.9 446.5,299.5 446,299.1 445.5,298.6 445,298 444.5,297.3 444,296.7 443.5,296.2 443.1,295.9 442.8,295.6 442.4,295.4 442,295.2 441.6,295 441,294.8 440.4,294.6 439.8,294.4 439.1,294.2 438.4,294.1 437.8,294 436.9,293.9 436,293.9 435,293.9 434.1,293.9 433.3,294 432.7,294 432.2,294.2 431.7,294.3 431,294.6 430.1,294.9 429,295.2 427.8,295.6 426.5,296.1 425.4,296.4 424.6,296.7"/>
<polygon fill="#0a488c" points="453,299 453,298.5 453.1,297.8 453.2,297 453.4,296.3 453.7,295.7 454.2,295.3 454.8,295 455.5,294.8 456.2,294.6 457,294.3 457.8,294.1 458.6,293.9 459.5,293.6 460.3,293.4 461,293 461.6,292.5 462.1,292 462.6,291.3 463.1,290.8 463.7,290.3 464.4,290 465.1,289.8 465.9,289.6 466.8,289.4 467.7,289.3 468.7,289.1 469.8,289 470.9,289 472,289 473,289 473.9,289.1 474.7,289.3 475.5,289.5 476.2,289.8 477,290.1 477.8,290.4 478.6,290.7 479.4,291.1 480.2,291.5 481,291.9 481.8,292.4 482.7,292.8 483.5,293.3 484.3,293.8 485,294.3 485.6,294.9 486.2,295.4 486.7,295.9 487.1,296.5 487.4,297 487.6,297.5 487.8,298 487.8,298.5 487.9,299 487.9,299.3 487.4,299.3 487,299.1 486.7,298.7 486.4,298.3 486.2,298 485.9,297.8 485.6,297.6 485.1,297.2 484.6,296.9 484.1,296.5 483.5,296.2 482.9,295.9 482.2,295.6 481.3,295.2 480.5,294.9 479.6,294.5 478.8,294.2 478.1,293.9 477.3,293.6 476.6,293.3 475.9,293.1 475.1,292.9 474.5,292.7 473.9,292.5 473.3,292.4 472.7,292.4 472,292.3 471,292.4 470,292.4 469,292.5 468.1,292.6 467.3,292.7 466.6,292.8 466,292.9 465.6,293 465.3,293.1 465.2,293.1 465,293.4 464.5,293.9 463.7,294.7 462.6,295.5 461.4,296 460.3,296.3 459.3,296.5 458.5,296.6 457.8,296.7 456.9,296.9 456.1,297 455.5,297 455.2,297 455.2,296.9 455,296.9 454.8,297.3 454.4,298 454.1,298.7 453.5,299.1"/>
<polygon fill="#0a488c" points="489.7,299.7 490,299.4 490.5,299 491.1,298.6 491.8,298.3 492.3,298.1 492.9,298 493.4,298 493.9,298.1 494.5,298.3 495,298.6 495.6,299 496.2,299.5 496.8,300.1 497.3,300.6 497.7,301 497.3,301.4 496.1,301.8 495.1,301.8 494.3,301.6 493.6,301.5 493.3,301.4 493.2,301.4 493,301.4 493,301.4 493,301.3 493.1,301.2 493,301 492.6,300.9 491.8,300.8 491,300.7 490,300.1"/>
<polygon fill="#0a488c" points="497.7,301 497.7,300.6 497.7,300.1 497.8,299.5 497.9,298.9 498.1,298.3 498.3,297.8 498.5,297.2 498.8,296.7 499.2,296.2 499.7,295.7 500.3,295.2 501,294.8 501.9,294.4 502.7,294 503.7,293.7 504.6,293.4 505.7,293.1 506.8,292.8 507.9,292.6 509,292.3 510.1,292.1 511.2,291.8 512.3,291.6 513.4,291.4 514.3,291.4 515.2,291.5 516.1,291.8 516.8,292.1 517.6,292.4 518.3,292.7 519.1,293 519.8,293.3 520.5,293.7 521.1,294 521.7,294.3 522.2,294.7 522.6,295.1 523,295.5 523.3,295.9 523.7,296.3 524,296.8 524.2,297.3 524.4,297.8 524.6,298.3 524.7,298.6 524.3,298.8 523.7,298.7 523.2,298.3 522.8,298 522.4,297.6 522.1,297.4 521.8,297.2 521.4,296.9 521,296.7 520.7,296.6 520.3,296.4 519.8,296.2 519.3,296.1 518.6,295.9 518,295.7 517.2,295.5 516.4,295.2 515.6,295 515,294.8 514.6,294.7 514.2,294.7 513.7,294.8 512.9,294.9 511.9,295.1 510.9,295.4 509.7,295.6 508.6,295.8 507.5,296 506.5,296.2 505.5,296.4 504.7,296.6 503.9,296.8 503.1,297 502.3,297.3 501.7,297.5 501.3,297.6 501,297.8 500.8,297.9 500.5,298.2 500.2,298.6 499.9,298.9 499.6,299.3 499.4,299.8 499.1,300.3 498.7,300.8 498.2,301.1"/>
<polygon fill="#0a488c" points="527,298.3 526.9,297.7 526.8,296.8 526.8,295.9 526.8,295 527,294.3 527.5,294 528.2,293.9 529.1,294 529.8,294 530.3,294.1 530.1,297.3 529.6,297.4 528.8,297.4 528.4,297.3 528.5,297.2 529.6,296.3 529.8,295.4 529.5,296.3 529.2,297.2 528.6,298 527.5,298.4"/>
<polygon fill="#fff" points="425.8,315.9 426.3,315.9 427.9,319.7 428.7,326.3 430.1,334.3 430.6,342.7 429.3,342.7 428.7,334.3 427.4,326.3 426.6,321 425.8,319"/>
<polygon fill="#fff" points="448.3,299.1 453,298.5 453.1,303.7 454.9,313 455.7,322.3 456.7,331.7 459.4,340.3 454.3,340.3 454.3,335 453,325 452.6,314.3 451,305"/>
<polygon fill="#fff" points="487.4,297.8 489.8,299.1 487,305 485.7,311.7 486.1,318.3 487.7,326.3 489.7,333 489.3,335.9 484.7,336.3 485.7,331.7 484.3,325.7 480.3,323.7 482.6,317 482.1,311.7 484.3,305"/>
<polygon fill="#fff" points="524.7,297.4 527,297.4 528.3,298.3 528.3,319 524.3,319.9 521.7,323.7 519,331.7 517,338.3 514.1,343.7 513.4,343.7 515.7,338.3 518.3,330.3 521,322.3 524.3,317 525.3,307.7"/>
</g>
<clipPath id="c33"><rect x="571.3" y="282" width="104.8" height="81"/></clipPath>
<g clip-path="url(#c33)">
<polygon fill="#7eb6d6" points="570.3,294.3 570.9,294.1 571.8,293.8 572.8,293.5 573.8,293.2 574.7,293 575.3,292.9 575.9,292.8 576.3,292.7 576.8,292.7 577.3,292.7 577.9,292.9 578.5,293.1 579.1,293.3 579.6,293.5 580,293.7 581.1,291.9 581.2,291.4 581.3,290.7 581.5,289.9 581.7,289 582,288.3 582.4,287.8 582.8,287.3 583.4,286.8 584,286.4 584.7,286.1 585.5,285.7 586.4,285.5 587.4,285.2 588.4,285.1 589.3,285 590.2,285.1 591,285.2 591.8,285.5 592.6,285.7 593.3,286.1 594.1,286.4 594.8,286.8 595.5,287.3 596.1,287.8 596.7,288.3 597.1,288.9 597.5,289.6 597.9,290.3 598.2,291 598.4,291.7 598.6,292.3 598.7,292.9 598.8,293.5 598.9,294 598.9,294.3 602,293.3 602,292.7 602,292 602,291.1 602.2,290.3 602.4,289.7 602.8,289.2 603.4,288.7 604,288.4 604.7,288.1 605.3,287.9 606,287.9 606.7,287.9 607.4,288 608,288.1 608.7,288.3 609.3,288.6 609.8,289 610.4,289.4 610.9,289.9 611.3,290.3 611.7,290.8 612,291.4 612.2,291.9 612.5,292.5 612.7,293 612.9,293.5 613,294.1 613.1,294.6 613.3,295.1 613.3,295.4 614,293.3 614,292.8 614.1,292 614.2,291.2 614.4,290.4 614.7,289.7 615.2,289 615.9,288.4 616.6,287.9 617.4,287.4 618,287 618.5,286.7 618.8,286.5 619.1,286.4 619.5,286.3 620,286.1 620.7,285.8 621.5,285.5 622.3,285.2 623.2,285 624,284.7 624.8,284.5 625.6,284.3 626.4,284.1 627.2,284 628,283.9 628.8,284 629.6,284.1 630.4,284.4 631.2,284.7 632,285 632.7,285.4 633.4,286 634.1,286.5 634.8,287.1 635.3,287.7 635.8,288.2 636.3,288.8 636.7,289.3 637,289.8 637.3,290.3 637.6,290.8 637.9,291.4 638.1,291.9 638.3,292.3 638.4,292.6 643.3,292.6 643.4,292.3 643.5,291.8 643.6,291.3 643.7,290.8 644,290.3 644.4,290 644.9,289.7 645.4,289.4 646,289.2 646.7,289 647.4,288.8 648.2,288.7 649,288.6 649.8,288.6 650.7,288.6 651.5,288.7 652.4,288.9 653.2,289.1 654,289.4 654.7,289.7 655.2,290 655.7,290.5 656,290.9 656.4,291.4 656.7,291.9 657,292.5 657.2,293.1 657.4,293.7 657.6,294.2 657.7,294.6 660.7,293.9 660.8,293.5 661,292.9 661.3,292.3 661.6,291.6 662,291 662.5,290.5 663.2,290 663.9,289.5 664.6,289.1 665.3,288.7 666.1,288.4 666.9,288.2 667.7,288 668.6,287.9 669.3,287.9 670,288 670.7,288.3 671.3,288.6 671.9,288.9 672.7,289.3 673.6,289.7 674.6,290.3 675.6,290.8 676.5,291.3 677.1,291.7 677.1,364 570.3,364"/>
<polygon fill="#0a488c" points="570.3,294.3 570.9,294.1 571.8,293.8 572.8,293.5 573.8,293.2 574.7,293 575.3,292.9 575.9,292.8 576.3,292.7 576.8,292.7 577.3,292.7 577.9,292.9 578.5,293.1 579.1,293.3 579.6,293.5 580,293.7 579.8,294.1 579.1,294.9 578.3,295.2 577.7,295.4 577.2,295.6 576.9,295.7 576.7,295.9 576.6,296 576.4,296.1 576,296.2 575.5,296.3 574.7,296.4 573.7,296.4 572.6,296.2 571.5,295.9 570.5,294.8"/>
<polygon fill="#0a488c" points="581.1,291.9 581.2,291.4 581.3,290.7 581.5,289.9 581.7,289 582,288.3 582.4,287.8 582.8,287.3 583.4,286.8 584,286.4 584.7,286.1 585.5,285.7 586.4,285.5 587.4,285.2 588.4,285.1 589.3,285 590.2,285.1 591,285.2 591.8,285.5 592.6,285.7 593.3,286.1 594.1,286.4 594.8,286.8 595.5,287.3 596.1,287.8 596.7,288.3 597.1,288.9 597.5,289.6 597.9,290.3 598.2,291 598.4,291.7 598.6,292.3 598.7,292.9 598.8,293.5 598.9,294 598.9,294.3 598.4,294.4 597.8,294.1 597.4,293.7 597.1,293.2 596.7,292.8 596.4,292.4 596,291.9 595.6,291.3 595.2,290.9 594.8,290.5 594.5,290.3 594.1,290.1 593.7,289.8 593.1,289.6 592.5,289.3 591.9,289.1 591.3,288.9 590.7,288.7 590.2,288.5 589.8,288.4 589.3,288.4 588.8,288.4 588.1,288.4 587.3,288.6 586.5,288.7 585.9,288.8 585.4,288.9 585.1,289.1 584.7,289.2 584.4,289.4 584.1,289.5 583.8,289.8 583.3,290.3 582.9,291 582.4,291.6 581.6,292"/>
<polygon fill="#0a488c" points="602,293.3 602,292.7 602,292 602,291.1 602.2,290.3 602.4,289.7 602.8,289.2 603.4,288.7 604,288.4 604.7,288.1 605.3,287.9 606,287.9 606.7,287.9 607.4,288 608,288.1 608.7,288.3 609.3,288.6 609.8,289 610.4,289.4 610.9,289.9 611.3,290.3 611.7,290.8 612,291.4 612.2,291.9 612.5,292.5 612.7,293 612.9,293.5 613,294.1 613.1,294.6 613.3,295.1 613.3,295.4 612.8,295.5 612.1,295.4 611.6,295 611.2,294.6 610.8,294.2 610.5,293.8 610.1,293.4 609.8,293 609.5,292.6 609.2,292.4 609,292.3 608.7,292.1 608.3,291.9 608,291.7 607.6,291.6 607.4,291.5 607.1,291.4 606.7,291.3 606.4,291.2 606.2,291.2 606,291.1 605.7,291.1 605.3,291.2 605,291.2 604.8,291.2 604.7,291 604.6,290.9 604.2,291.5 603.8,292.3 603.3,292.9 602.5,293.3"/>
<polygon fill="#0a488c" points="614,293.3 614,292.8 614.1,292 614.2,291.2 614.4,290.4 614.7,289.7 615.2,289 615.9,288.4 616.6,287.9 617.4,287.4 618,287 618.5,286.7 618.8,286.5 619.1,286.4 619.5,286.3 620,286.1 620.7,285.8 621.5,285.5 622.3,285.2 623.2,285 624,284.7 624.8,284.5 625.6,284.3 626.4,284.1 627.2,284 628,283.9 628.8,284 629.6,284.1 630.4,284.4 631.2,284.7 632,285 632.7,285.4 633.4,286 634.1,286.5 634.8,287.1 635.3,287.7 635.8,288.2 636.3,288.8 636.7,289.3 637,289.8 637.3,290.3 637.6,290.8 637.9,291.4 638.1,291.9 638.3,292.3 638.4,292.6 637.9,292.8 637.3,292.7 636.9,292.4 636.5,292 636.1,291.7 635.7,291.3 635.3,290.9 634.8,290.6 634.4,290.2 634,289.8 633.5,289.5 632.9,289.1 632.2,288.7 631.6,288.3 631.1,288 630.5,287.8 630,287.6 629.5,287.5 628.9,287.4 628.4,287.3 627.9,287.3 627.5,287.3 627.1,287.4 626.5,287.6 625.7,287.8 624.9,288 624.1,288.2 623.3,288.4 622.5,288.6 621.8,288.8 621.1,289 620.5,289.2 620.2,289.2 620.1,289.2 620,289.3 619.6,289.4 618.9,289.8 618.2,290.1 617.5,290.4 616.9,290.7 616.5,290.8 616.3,291 615.9,291.5 615.6,292.3 615.2,292.9 614.5,293.3"/>
<polygon fill="#0a488c" points="643.3,292.6 643.4,292.3 643.5,291.8 643.6,291.3 643.7,290.8 644,290.3 644.4,290 644.9,289.7 645.4,289.4 646,289.2 646.7,289 647.4,288.8 648.2,288.7 649,288.6 649.8,288.6 650.7,288.6 651.5,288.7 652.4,288.9 653.2,289.1 654,289.4 654.7,289.7 655.2,290 655.7,290.5 656,290.9 656.4,291.4 656.7,291.9 657,292.5 657.2,293.1 657.4,293.7 657.6,294.2 657.7,294.6 657.3,294.8 656.4,294.6 655.9,294.2 655.4,293.8 654.9,293.4 654.5,293.1 654.2,292.8 653.8,292.6 653.5,292.4 653.3,292.4 653.1,292.4 652.8,292.3 652.3,292.2 651.6,292.1 651,292.1 650.4,292 649.9,291.9 649.3,291.9 648.6,291.9 648,291.9 647.4,291.9 646.9,292 646.5,292 646.1,292 645.9,291.9 645.7,291.8 645.6,291.6 645.3,291.7 645,292.1 644.6,292.5 643.8,292.7"/>
<polygon fill="#0a488c" points="660.7,293.9 660.8,293.5 661,292.9 661.3,292.3 661.6,291.6 662,291 662.5,290.5 663.2,290 663.9,289.5 664.6,289.1 665.3,288.7 666.1,288.4 666.9,288.2 667.7,288 668.6,287.9 669.3,287.9 670,288 670.7,288.3 671.3,288.6 671.9,288.9 672.7,289.3 673.6,289.7 674.6,290.3 675.6,290.8 676.5,291.3 677.1,291.7 675.5,294.5 674.9,294.2 674,293.7 673,293.2 672,292.7 671.1,292.3 670.4,291.9 669.8,291.6 669.4,291.4 669.2,291.3 669.1,291.2 668.8,291.2 668.3,291.1 667.7,291.2 667,291.3 666.5,291.4 665.9,291.5 665.2,291.7 664.6,292 664.1,292.2 663.6,292.4 663.3,292.6 662.9,292.9 662.4,293.4 661.9,293.9 661.1,294.1"/>
<polygon fill="#fff" points="598.8,293 602.1,293 600.8,303.7 600.8,314.3 603.2,321 604,327 603.7,335 604.7,341.7 606.7,347.3 600,345 602.4,337.7 600.4,332.3 602,325 600.3,315.9 596.4,313.7 598,303.7"/>
<polygon fill="#fff" points="638.4,292.1 643.3,292.1 642,295.7 641.6,301 642.7,305.7 643.7,306.6 642,305.3 640,303.9 637.3,303.7 634.7,305 632.7,308.3 632,314.3 632.8,319.7 634,324.3 635.3,328.3 637.3,334.3 638.1,341.7 637.3,345.9 636.3,345.9 636.3,339.7 635.3,334.3 633.3,331 630.7,330.6 628,331.7 626,333.9 625.6,333 627.3,328.3 628.3,324.3 627.3,319.7 630,311.7 633.3,305 636,298.3"/>
<polygon fill="#fff" points="657.7,293.8 660.7,293.8 660,301 659.7,307.7 660,314.3 661.3,319.7 662.9,325 664.7,331 666,337.7 668,344.3 664.7,339.9 661.3,337 660.7,331 659.7,324.3 658.7,319 658.1,314.3 658,307.7 658.7,301"/>
<polygon fill="#fff" points="571.7,301 573.1,301.7 574.7,309.7 576.3,319.7 577.1,327.7 575.7,327.7 574.4,319.7 572.8,313 571.7,312.3"/>
<polyline fill="none" stroke="#fff" stroke-width="2" stroke-linejoin="round" points="572.4,302.3 574.1,311.7 576,321 577.6,329.7 576.8,334.3 578,341 580,347.7"/>
<polyline fill="none" stroke="#fff" stroke-width="1.1" stroke-linejoin="round" points="613.5,294.3 614.1,301 614.9,306.3"/>
</g>
<path d="M131.2 107v4.2M131 107.3h-3.9M181.8 107v4.2M131 73.4h-3.9M232.5 107v4.2M131 39.5h-3.9" stroke="#0000ff" stroke-width="0.9" fill="none"/>
<rect x="131" y="26" width="104.8" height="81" fill="none" stroke="#0000ff" stroke-width="2"/>
<path d="M278 107v4.2M277.8 107.3h-3.9M328.6 107v4.2M277.8 73.4h-3.9M379.3 107v4.2M277.8 39.5h-3.9" stroke="#0000ff" stroke-width="0.9" fill="none"/>
<rect x="277.8" y="26" width="104.8" height="81" fill="none" stroke="#0000ff" stroke-width="2"/>
<path d="M424.7 107v4.2M424.5 107.3h-3.9M475.3 107v4.2M424.5 73.4h-3.9M526 107v4.2M424.5 39.5h-3.9" stroke="#ff0000" stroke-width="0.9" fill="none"/>
<rect x="424.5" y="26" width="104.8" height="81" fill="none" stroke="#ff0000" stroke-width="2"/>
<path d="M571.5 107v4.2M571.3 107.3h-3.9M622.1 107v4.2M571.3 73.4h-3.9M672.8 107v4.2M571.3 39.5h-3.9" stroke="#ff0000" stroke-width="0.9" fill="none"/>
<rect x="571.3" y="26" width="104.8" height="81" fill="none" stroke="#ff0000" stroke-width="2"/>
<path d="M131.2 192.5v4.2M131 192.8h-3.9M181.8 192.5v4.2M131 158.9h-3.9M232.5 192.5v4.2M131 125h-3.9" stroke="#0000ff" stroke-width="0.9" fill="none"/>
<rect x="131" y="111.5" width="104.8" height="81" fill="none" stroke="#0000ff" stroke-width="2"/>
<path d="M278 192.5v4.2M277.8 192.8h-3.9M328.6 192.5v4.2M277.8 158.9h-3.9M379.3 192.5v4.2M277.8 125h-3.9" stroke="#ff0000" stroke-width="0.9" fill="none"/>
<rect x="277.8" y="111.5" width="104.8" height="81" fill="none" stroke="#ff0000" stroke-width="2"/>
<path d="M424.7 192.5v4.2M424.5 192.8h-3.9M475.3 192.5v4.2M424.5 158.9h-3.9M526 192.5v4.2M424.5 125h-3.9" stroke="#000000" stroke-width="0.9" fill="none"/>
<rect x="424.5" y="111.5" width="104.8" height="81" fill="none" stroke="#000000" stroke-width="2"/>
<path d="M571.5 192.5v4.2M571.3 192.8h-3.9M622.1 192.5v4.2M571.3 158.9h-3.9M672.8 192.5v4.2M571.3 125h-3.9" stroke="#008000" stroke-width="0.9" fill="none"/>
<rect x="571.3" y="111.5" width="104.8" height="81" fill="none" stroke="#008000" stroke-width="2"/>
<path d="M131.2 278v4.2M131 278.3h-3.9M181.8 278v4.2M131 244.4h-3.9M232.5 278v4.2M131 210.5h-3.9" stroke="#000000" stroke-width="0.9" fill="none"/>
<rect x="131" y="197" width="104.8" height="81" fill="none" stroke="#000000" stroke-width="2"/>
<path d="M278 278v4.2M277.8 278.3h-3.9M328.6 278v4.2M277.8 244.4h-3.9M379.3 278v4.2M277.8 210.5h-3.9" stroke="#008000" stroke-width="0.9" fill="none"/>
<rect x="277.8" y="197" width="104.8" height="81" fill="none" stroke="#008000" stroke-width="2"/>
<path d="M424.7 278v4.2M424.5 278.3h-3.9M475.3 278v4.2M424.5 244.4h-3.9M526 278v4.2M424.5 210.5h-3.9" stroke="#008000" stroke-width="0.9" fill="none"/>
<rect x="424.5" y="197" width="104.8" height="81" fill="none" stroke="#008000" stroke-width="2"/>
<path d="M571.5 278v4.2M571.3 278.3h-3.9M622.1 278v4.2M571.3 244.4h-3.9M672.8 278v4.2M571.3 210.5h-3.9" stroke="#008000" stroke-width="0.9" fill="none"/>
<rect x="571.3" y="197" width="104.8" height="81" fill="none" stroke="#008000" stroke-width="2"/>
<path d="M131.2 363v4.2M131 363.3h-3.9M181.8 363v4.2M131 329.4h-3.9M232.5 363v4.2M131 295.5h-3.9" stroke="#ff0000" stroke-width="0.9" fill="none"/>
<rect x="131" y="282" width="104.8" height="81" fill="none" stroke="#ff0000" stroke-width="2"/>
<path d="M278 363v4.2M277.8 363.3h-3.9M328.6 363v4.2M277.8 329.4h-3.9M379.3 363v4.2M277.8 295.5h-3.9" stroke="#008000" stroke-width="0.9" fill="none"/>
<rect x="277.8" y="282" width="104.8" height="81" fill="none" stroke="#008000" stroke-width="2"/>
<path d="M424.7 363v4.2M424.5 363.3h-3.9M475.3 363v4.2M424.5 329.4h-3.9M526 363v4.2M424.5 295.5h-3.9" stroke="#008000" stroke-width="0.9" fill="none"/>
<rect x="424.5" y="282" width="104.8" height="81" fill="none" stroke="#008000" stroke-width="2"/>
<path d="M571.5 363v4.2M571.3 363.3h-3.9M622.1 363v4.2M571.3 329.4h-3.9M672.8 363v4.2M571.3 295.5h-3.9" stroke="#008000" stroke-width="0.9" fill="none"/>
<rect x="571.3" y="282" width="104.8" height="81" fill="none" stroke="#008000" stroke-width="2"/>
<g font-size="9.25" fill="#000">
<text transform="translate(123.9 110.8) scale(1.115 1)" text-anchor="end">0</text>
<text transform="translate(123.9 76.9) scale(1.115 1)" text-anchor="end">500</text>
<text transform="translate(123.9 43) scale(1.115 1)" text-anchor="end">1000</text>
<text transform="translate(123.9 196.3) scale(1.115 1)" text-anchor="end">0</text>
<text transform="translate(123.9 162.4) scale(1.115 1)" text-anchor="end">500</text>
<text transform="translate(123.9 128.5) scale(1.115 1)" text-anchor="end">1000</text>
<text transform="translate(123.9 281.8) scale(1.115 1)" text-anchor="end">0</text>
<text transform="translate(123.9 247.9) scale(1.115 1)" text-anchor="end">500</text>
<text transform="translate(123.9 214) scale(1.115 1)" text-anchor="end">1000</text>
<text transform="translate(123.9 366.8) scale(1.115 1)" text-anchor="end">0</text>
<text transform="translate(123.9 332.9) scale(1.115 1)" text-anchor="end">500</text>
<text transform="translate(123.9 299) scale(1.115 1)" text-anchor="end">1000</text>
<text transform="translate(131.2 377.2) scale(1.115 1)" text-anchor="middle">0</text>
<text transform="translate(181.8 377.2) scale(1.115 1)" text-anchor="middle">500</text>
<text transform="translate(232.5 377.2) scale(1.115 1)" text-anchor="middle">1000</text>
<text transform="translate(278 377.2) scale(1.115 1)" text-anchor="middle">0</text>
<text transform="translate(328.6 377.2) scale(1.115 1)" text-anchor="middle">500</text>
<text transform="translate(379.3 377.2) scale(1.115 1)" text-anchor="middle">1000</text>
<text transform="translate(424.7 377.2) scale(1.115 1)" text-anchor="middle">0</text>
<text transform="translate(475.3 377.2) scale(1.115 1)" text-anchor="middle">500</text>
<text transform="translate(526 377.2) scale(1.115 1)" text-anchor="middle">1000</text>
<text transform="translate(571.5 377.2) scale(1.115 1)" text-anchor="middle">0</text>
<text transform="translate(622.1 377.2) scale(1.115 1)" text-anchor="middle">500</text>
<text transform="translate(672.8 377.2) scale(1.115 1)" text-anchor="middle">1000</text>
</g>
<path d="M66.3 8 L68.4 399.9 L672 402.4" fill="none" stroke="#000" stroke-width="2.05" stroke-linejoin="miter"/>
<path d="M66.3 0.5 L71.4 16.8 L66.3 12.6 L61.2 16.8 Z" fill="#000"/>
<path d="M685.3 402.5 L666.2 407.6 L670.8 402.5 L666.2 397.3 Z" fill="#000"/>
<text x="14.3" y="20.8" font-size="13.7">x10</text>
<text x="40.6" y="13.3" font-size="9.6">-2</text>
<text transform="translate(44.2 63.3) rotate(-90) scale(1.35 1)" font-size="12" stroke="#000" stroke-width="0.35">1</text>
<text transform="translate(47.4 152.6) rotate(-90)" font-size="12">0.5</text>
<text transform="translate(50.6 246.4) rotate(-90)" font-size="12">0.01</text>
<text transform="translate(49.7 333.2) rotate(-90)" font-size="12">0.05</text>
<text transform="translate(16.2 231.5) rotate(-90)"><tspan font-size="20.6">S</tspan><tspan font-size="12" dy="4.6" dx="-1.7">bulk</tspan><tspan font-size="16" dy="-5.2" dx="12" font-style="italic">g/L</tspan></text>
<text transform="translate(79.3 219) rotate(-90) scale(1.06 1)" font-size="8.8">Height <tspan font-style="italic">μm</tspan></text>
<text x="177.4" y="416" font-size="12">0.1</text>
<text x="313" y="416" font-size="12">0.2</text>
<text x="448.6" y="416" font-size="12">0.3</text>
<text x="585.4" y="416" font-size="12">0.4</text>
<text x="369.6" y="445.6" font-size="16.5">μ</text>
<text x="382" y="448.7" font-size="11.6">max</text>
<text x="415.8" y="448.7" font-size="14.5">1/h</text>
</svg>
</body></html>
